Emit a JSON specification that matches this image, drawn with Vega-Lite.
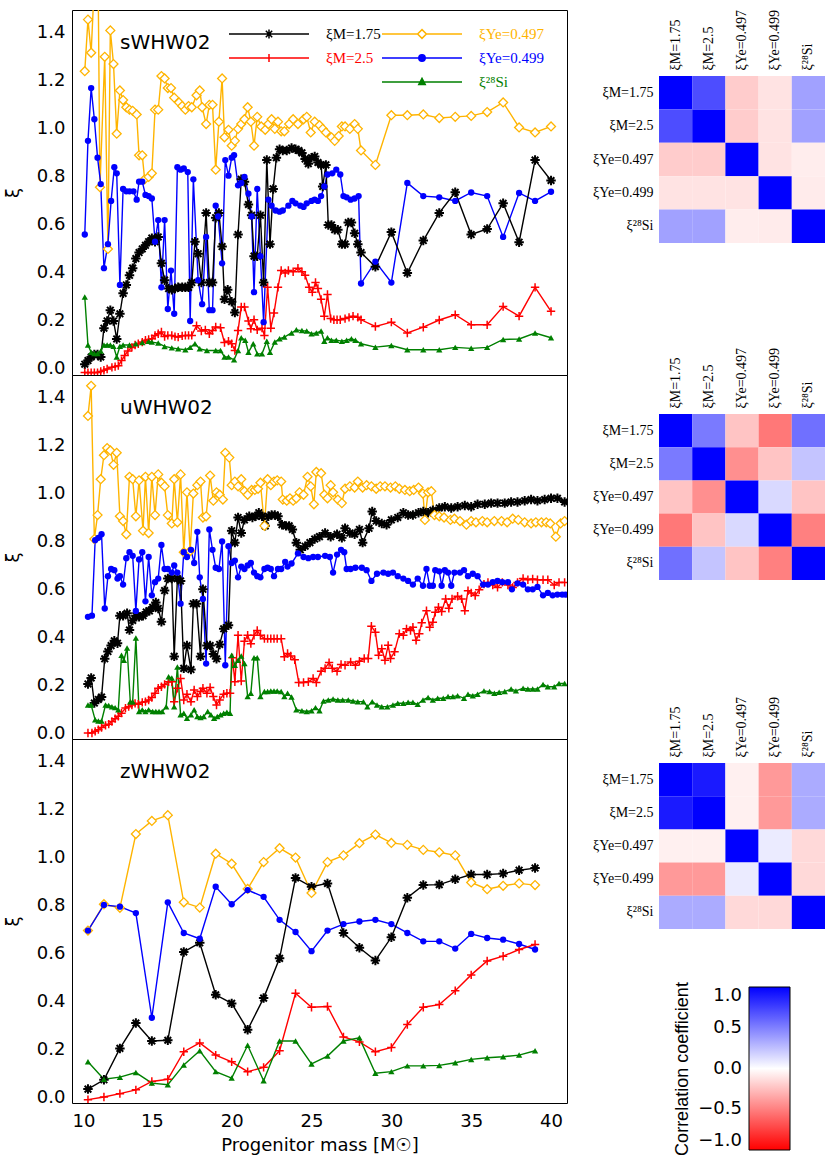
{
"$schema":"https://vega.github.io/schema/vega-lite/v6.json",
"background":"white",
"padding":{"left":3,"top":9,"right":0,"bottom":0},
"config":{"view":{"stroke":null},"font":"DejaVu Sans","axis":{"labelFont":"DejaVu Sans","titleFont":"DejaVu Sans","labelColor":"#000","titleColor":"#000","tickColor":"#000","tickWidth":1,"grid":false},"title":{"font":"DejaVu Sans","fontWeight":"normal","color":"#000"}},
"datasets":{
"lines":[
{"p":"s","s":"Y497","x":10.8,"y":1.24},{"p":"s","s":"Y497","x":11.0,"y":1.455},{"p":"s","s":"Y497","x":11.2,"y":1.317},{"p":"s","s":"Y497","x":11.6,"y":1.9},{"p":"s","s":"Y497","x":11.75,"y":0.757},{"p":"s","s":"Y497","x":12.05,"y":1.30},{"p":"s","s":"Y497","x":12.25,"y":0.50},{"p":"s","s":"Y497","x":12.4,"y":1.41},{"p":"s","s":"Y497","x":12.6,"y":1.27},{"p":"s","s":"Y497","x":12.8,"y":0.98},{"p":"s","s":"Y497","x":13.0,"y":1.16},{"p":"s","s":"Y497","x":13.2,"y":1.12},{"p":"s","s":"Y497","x":13.4,"y":1.09},{"p":"s","s":"Y497","x":13.6,"y":1.08},{"p":"s","s":"Y497","x":13.8,"y":1.075},{"p":"s","s":"Y497","x":14.05,"y":1.06},{"p":"s","s":"Y497","x":14.2,"y":0.89},{"p":"s","s":"Y497","x":14.4,"y":0.89},{"p":"s","s":"Y497","x":14.55,"y":0.79},{"p":"s","s":"Y497","x":14.8,"y":0.80},{"p":"s","s":"Y497","x":15.0,"y":0.815},{"p":"s","s":"Y497","x":15.2,"y":1.08},{"p":"s","s":"Y497","x":15.4,"y":1.08},{"p":"s","s":"Y497","x":15.6,"y":1.22},{"p":"s","s":"Y497","x":15.8,"y":1.21},{"p":"s","s":"Y497","x":16.0,"y":1.17},{"p":"s","s":"Y497","x":16.2,"y":1.17},{"p":"s","s":"Y497","x":16.4,"y":1.13},{"p":"s","s":"Y497","x":16.7,"y":1.11},{"p":"s","s":"Y497","x":16.9,"y":1.095},{"p":"s","s":"Y497","x":17.1,"y":1.08},{"p":"s","s":"Y497","x":17.3,"y":1.095},{"p":"s","s":"Y497","x":17.5,"y":1.09},{"p":"s","s":"Y497","x":17.8,"y":1.14},{"p":"s","s":"Y497","x":18.0,"y":1.16},{"p":"s","s":"Y497","x":18.15,"y":1.09},{"p":"s","s":"Y497","x":18.4,"y":1.02},{"p":"s","s":"Y497","x":18.6,"y":1.10},{"p":"s","s":"Y497","x":18.8,"y":1.10},{"p":"s","s":"Y497","x":19.0,"y":0.83},{"p":"s","s":"Y497","x":19.2,"y":1.03},{"p":"s","s":"Y497","x":19.4,"y":1.21},{"p":"s","s":"Y497","x":19.55,"y":0.965},{"p":"s","s":"Y497","x":19.8,"y":0.996},{"p":"s","s":"Y497","x":20.0,"y":0.93},{"p":"s","s":"Y497","x":20.2,"y":0.95},{"p":"s","s":"Y497","x":20.4,"y":1.0},{"p":"s","s":"Y497","x":20.6,"y":1.02},{"p":"s","s":"Y497","x":20.8,"y":1.04},{"p":"s","s":"Y497","x":21.0,"y":1.09},{"p":"s","s":"Y497","x":21.2,"y":1.03},{"p":"s","s":"Y497","x":21.4,"y":0.93},{"p":"s","s":"Y497","x":21.6,"y":1.05},{"p":"s","s":"Y497","x":21.85,"y":1.01},{"p":"s","s":"Y497","x":22.1,"y":0.996},{"p":"s","s":"Y497","x":22.3,"y":1.02},{"p":"s","s":"Y497","x":22.5,"y":1.04},{"p":"s","s":"Y497","x":22.7,"y":1.0},{"p":"s","s":"Y497","x":22.9,"y":1.03},{"p":"s","s":"Y497","x":23.1,"y":0.99},{"p":"s","s":"Y497","x":23.3,"y":0.99},{"p":"s","s":"Y497","x":23.6,"y":1.02},{"p":"s","s":"Y497","x":23.85,"y":1.04},{"p":"s","s":"Y497","x":24.15,"y":1.02},{"p":"s","s":"Y497","x":24.5,"y":1.04},{"p":"s","s":"Y497","x":24.7,"y":1.05},{"p":"s","s":"Y497","x":24.95,"y":0.985},{"p":"s","s":"Y497","x":25.2,"y":1.03},{"p":"s","s":"Y497","x":25.5,"y":1.015},{"p":"s","s":"Y497","x":25.7,"y":1.0},{"p":"s","s":"Y497","x":25.9,"y":0.985},{"p":"s","s":"Y497","x":26.25,"y":0.965},{"p":"s","s":"Y497","x":26.45,"y":0.95},{"p":"s","s":"Y497","x":26.7,"y":0.97},{"p":"s","s":"Y497","x":26.9,"y":1.01},{"p":"s","s":"Y497","x":27.1,"y":1.01},{"p":"s","s":"Y497","x":27.4,"y":1.0},{"p":"s","s":"Y497","x":27.7,"y":1.02},{"p":"s","s":"Y497","x":27.9,"y":1.0},{"p":"s","s":"Y497","x":28.1,"y":0.91},{"p":"s","s":"Y497","x":29,"y":0.85},{"p":"s","s":"Y497","x":30,"y":1.057},{"p":"s","s":"Y497","x":31,"y":1.057},{"p":"s","s":"Y497","x":32,"y":1.06},{"p":"s","s":"Y497","x":33,"y":1.045},{"p":"s","s":"Y497","x":34,"y":1.05},{"p":"s","s":"Y497","x":35,"y":1.054},{"p":"s","s":"Y497","x":36,"y":1.07},{"p":"s","s":"Y497","x":37,"y":1.11},{"p":"s","s":"Y497","x":38,"y":1.006},{"p":"s","s":"Y497","x":39,"y":0.985},{"p":"s","s":"Y497","x":40,"y":1.01},
{"p":"s","s":"Y499","x":10.8,"y":0.56},{"p":"s","s":"Y499","x":11.0,"y":0.95},{"p":"s","s":"Y499","x":11.2,"y":1.17},{"p":"s","s":"Y499","x":11.4,"y":1.04},{"p":"s","s":"Y499","x":11.6,"y":0.88},{"p":"s","s":"Y499","x":11.8,"y":0.77},{"p":"s","s":"Y499","x":12.0,"y":0.42},{"p":"s","s":"Y499","x":12.25,"y":0.52},{"p":"s","s":"Y499","x":12.45,"y":0.70},{"p":"s","s":"Y499","x":12.65,"y":0.84},{"p":"s","s":"Y499","x":12.8,"y":0.815},{"p":"s","s":"Y499","x":13.0,"y":0.35},{"p":"s","s":"Y499","x":13.2,"y":0.75},{"p":"s","s":"Y499","x":13.4,"y":0.74},{"p":"s","s":"Y499","x":13.6,"y":0.74},{"p":"s","s":"Y499","x":13.85,"y":0.74},{"p":"s","s":"Y499","x":14.05,"y":0.705},{"p":"s","s":"Y499","x":14.2,"y":0.78},{"p":"s","s":"Y499","x":14.4,"y":0.78},{"p":"s","s":"Y499","x":14.6,"y":0.725},{"p":"s","s":"Y499","x":14.8,"y":0.72},{"p":"s","s":"Y499","x":15.0,"y":0.71},{"p":"s","s":"Y499","x":15.2,"y":0.53},{"p":"s","s":"Y499","x":15.4,"y":0.62},{"p":"s","s":"Y499","x":15.6,"y":0.34},{"p":"s","s":"Y499","x":15.8,"y":0.62},{"p":"s","s":"Y499","x":16.0,"y":0.25},{"p":"s","s":"Y499","x":16.2,"y":0.41},{"p":"s","s":"Y499","x":16.4,"y":0.23},{"p":"s","s":"Y499","x":16.6,"y":0.84},{"p":"s","s":"Y499","x":16.8,"y":0.83},{"p":"s","s":"Y499","x":17.0,"y":0.835},{"p":"s","s":"Y499","x":17.25,"y":0.82},{"p":"s","s":"Y499","x":17.4,"y":0.20},{"p":"s","s":"Y499","x":17.6,"y":0.79},{"p":"s","s":"Y499","x":17.9,"y":0.37},{"p":"s","s":"Y499","x":18.15,"y":0.27},{"p":"s","s":"Y499","x":18.4,"y":0.55},{"p":"s","s":"Y499","x":18.6,"y":0.245},{"p":"s","s":"Y499","x":18.8,"y":0.245},{"p":"s","s":"Y499","x":19.0,"y":0.68},{"p":"s","s":"Y499","x":19.15,"y":0.635},{"p":"s","s":"Y499","x":19.4,"y":0.44},{"p":"s","s":"Y499","x":19.6,"y":0.87},{"p":"s","s":"Y499","x":19.8,"y":0.805},{"p":"s","s":"Y499","x":20.0,"y":0.88},{"p":"s","s":"Y499","x":20.15,"y":0.89},{"p":"s","s":"Y499","x":20.4,"y":0.765},{"p":"s","s":"Y499","x":20.6,"y":0.775},{"p":"s","s":"Y499","x":20.8,"y":0.80},{"p":"s","s":"Y499","x":21.05,"y":0.73},{"p":"s","s":"Y499","x":21.25,"y":0.635},{"p":"s","s":"Y499","x":21.4,"y":0.32},{"p":"s","s":"Y499","x":21.6,"y":0.75},{"p":"s","s":"Y499","x":21.8,"y":0.47},{"p":"s","s":"Y499","x":22.0,"y":0.195},{"p":"s","s":"Y499","x":22.3,"y":0.705},{"p":"s","s":"Y499","x":22.5,"y":0.68},{"p":"s","s":"Y499","x":22.75,"y":0.66},{"p":"s","s":"Y499","x":23.0,"y":0.655},{"p":"s","s":"Y499","x":23.2,"y":0.66},{"p":"s","s":"Y499","x":23.55,"y":0.68},{"p":"s","s":"Y499","x":23.8,"y":0.70},{"p":"s","s":"Y499","x":24.0,"y":0.69},{"p":"s","s":"Y499","x":24.3,"y":0.68},{"p":"s","s":"Y499","x":24.5,"y":0.675},{"p":"s","s":"Y499","x":24.7,"y":0.69},{"p":"s","s":"Y499","x":25.0,"y":0.70},{"p":"s","s":"Y499","x":25.2,"y":0.705},{"p":"s","s":"Y499","x":25.4,"y":0.70},{"p":"s","s":"Y499","x":25.6,"y":0.72},{"p":"s","s":"Y499","x":25.8,"y":0.76},{"p":"s","s":"Y499","x":26.0,"y":0.81},{"p":"s","s":"Y499","x":26.3,"y":0.815},{"p":"s","s":"Y499","x":26.55,"y":0.83},{"p":"s","s":"Y499","x":26.8,"y":0.81},{"p":"s","s":"Y499","x":27.0,"y":0.72},{"p":"s","s":"Y499","x":27.2,"y":0.715},{"p":"s","s":"Y499","x":27.45,"y":0.705},{"p":"s","s":"Y499","x":27.7,"y":0.71},{"p":"s","s":"Y499","x":27.95,"y":0.72},{"p":"s","s":"Y499","x":28.1,"y":0.356},{"p":"s","s":"Y499","x":29,"y":0.447},{"p":"s","s":"Y499","x":30,"y":0.36},{"p":"s","s":"Y499","x":31,"y":0.775},{"p":"s","s":"Y499","x":32,"y":0.72},{"p":"s","s":"Y499","x":33,"y":0.715},{"p":"s","s":"Y499","x":34,"y":0.70},{"p":"s","s":"Y499","x":35,"y":0.735},{"p":"s","s":"Y499","x":36,"y":0.72},{"p":"s","s":"Y499","x":37,"y":0.55},{"p":"s","s":"Y499","x":38,"y":0.733},{"p":"s","s":"Y499","x":39,"y":0.70},{"p":"s","s":"Y499","x":40,"y":0.738},
{"p":"s","s":"M175","x":10.8,"y":0.02},{"p":"s","s":"M175","x":11.0,"y":0.035},{"p":"s","s":"M175","x":11.2,"y":0.05},{"p":"s","s":"M175","x":11.4,"y":0.06},{"p":"s","s":"M175","x":11.6,"y":0.06},{"p":"s","s":"M175","x":11.8,"y":0.05},{"p":"s","s":"M175","x":12.0,"y":0.17},{"p":"s","s":"M175","x":12.2,"y":0.20},{"p":"s","s":"M175","x":12.4,"y":0.245},{"p":"s","s":"M175","x":12.6,"y":0.20},{"p":"s","s":"M175","x":12.8,"y":0.125},{"p":"s","s":"M175","x":13.0,"y":0.23},{"p":"s","s":"M175","x":13.2,"y":0.315},{"p":"s","s":"M175","x":13.4,"y":0.35},{"p":"s","s":"M175","x":13.6,"y":0.39},{"p":"s","s":"M175","x":13.8,"y":0.42},{"p":"s","s":"M175","x":14.0,"y":0.46},{"p":"s","s":"M175","x":14.2,"y":0.485},{"p":"s","s":"M175","x":14.4,"y":0.50},{"p":"s","s":"M175","x":14.6,"y":0.515},{"p":"s","s":"M175","x":14.8,"y":0.53},{"p":"s","s":"M175","x":15.0,"y":0.545},{"p":"s","s":"M175","x":15.2,"y":0.53},{"p":"s","s":"M175","x":15.4,"y":0.55},{"p":"s","s":"M175","x":15.6,"y":0.44},{"p":"s","s":"M175","x":15.8,"y":0.37},{"p":"s","s":"M175","x":16.05,"y":0.335},{"p":"s","s":"M175","x":16.25,"y":0.33},{"p":"s","s":"M175","x":16.45,"y":0.335},{"p":"s","s":"M175","x":16.65,"y":0.34},{"p":"s","s":"M175","x":16.9,"y":0.34},{"p":"s","s":"M175","x":17.1,"y":0.34},{"p":"s","s":"M175","x":17.3,"y":0.34},{"p":"s","s":"M175","x":17.5,"y":0.36},{"p":"s","s":"M175","x":17.7,"y":0.53},{"p":"s","s":"M175","x":17.9,"y":0.48},{"p":"s","s":"M175","x":18.1,"y":0.36},{"p":"s","s":"M175","x":18.4,"y":0.65},{"p":"s","s":"M175","x":18.6,"y":0.36},{"p":"s","s":"M175","x":18.8,"y":0.36},{"p":"s","s":"M175","x":19.0,"y":0.63},{"p":"s","s":"M175","x":19.2,"y":0.65},{"p":"s","s":"M175","x":19.4,"y":0.51},{"p":"s","s":"M175","x":19.55,"y":0.29},{"p":"s","s":"M175","x":19.75,"y":0.33},{"p":"s","s":"M175","x":20.0,"y":0.28},{"p":"s","s":"M175","x":20.2,"y":0.235},{"p":"s","s":"M175","x":20.4,"y":0.56},{"p":"s","s":"M175","x":20.6,"y":0.79},{"p":"s","s":"M175","x":20.8,"y":0.78},{"p":"s","s":"M175","x":21.05,"y":0.685},{"p":"s","s":"M175","x":21.25,"y":0.64},{"p":"s","s":"M175","x":21.4,"y":0.47},{"p":"s","s":"M175","x":21.6,"y":0.47},{"p":"s","s":"M175","x":21.8,"y":0.64},{"p":"s","s":"M175","x":22.0,"y":0.36},{"p":"s","s":"M175","x":22.2,"y":0.87},{"p":"s","s":"M175","x":22.4,"y":0.52},{"p":"s","s":"M175","x":22.6,"y":0.75},{"p":"s","s":"M175","x":22.8,"y":0.88},{"p":"s","s":"M175","x":23.0,"y":0.915},{"p":"s","s":"M175","x":23.2,"y":0.91},{"p":"s","s":"M175","x":23.45,"y":0.91},{"p":"s","s":"M175","x":23.75,"y":0.92},{"p":"s","s":"M175","x":24.0,"y":0.915},{"p":"s","s":"M175","x":24.2,"y":0.91},{"p":"s","s":"M175","x":24.4,"y":0.90},{"p":"s","s":"M175","x":24.6,"y":0.875},{"p":"s","s":"M175","x":24.8,"y":0.855},{"p":"s","s":"M175","x":25.0,"y":0.88},{"p":"s","s":"M175","x":25.2,"y":0.885},{"p":"s","s":"M175","x":25.4,"y":0.86},{"p":"s","s":"M175","x":25.6,"y":0.85},{"p":"s","s":"M175","x":25.7,"y":0.76},{"p":"s","s":"M175","x":25.9,"y":0.85},{"p":"s","s":"M175","x":26.05,"y":0.60},{"p":"s","s":"M175","x":26.25,"y":0.60},{"p":"s","s":"M175","x":26.45,"y":0.58},{"p":"s","s":"M175","x":26.65,"y":0.58},{"p":"s","s":"M175","x":26.9,"y":0.52},{"p":"s","s":"M175","x":27.1,"y":0.52},{"p":"s","s":"M175","x":27.3,"y":0.61},{"p":"s","s":"M175","x":27.5,"y":0.61},{"p":"s","s":"M175","x":27.7,"y":0.565},{"p":"s","s":"M175","x":27.9,"y":0.52},{"p":"s","s":"M175","x":28.1,"y":0.485},{"p":"s","s":"M175","x":29,"y":0.426},{"p":"s","s":"M175","x":30,"y":0.57},{"p":"s","s":"M175","x":31,"y":0.40},{"p":"s","s":"M175","x":32,"y":0.535},{"p":"s","s":"M175","x":33,"y":0.65},{"p":"s","s":"M175","x":34,"y":0.736},{"p":"s","s":"M175","x":35,"y":0.56},{"p":"s","s":"M175","x":36,"y":0.583},{"p":"s","s":"M175","x":37,"y":0.69},{"p":"s","s":"M175","x":38,"y":0.528},{"p":"s","s":"M175","x":39,"y":0.87},{"p":"s","s":"M175","x":40,"y":0.785},
{"p":"s","s":"M25","x":10.8,"y":-0.015},{"p":"s","s":"M25","x":11.0,"y":-0.015},{"p":"s","s":"M25","x":11.2,"y":-0.015},{"p":"s","s":"M25","x":11.4,"y":-0.015},{"p":"s","s":"M25","x":11.6,"y":-0.015},{"p":"s","s":"M25","x":11.8,"y":-0.01},{"p":"s","s":"M25","x":12.0,"y":-0.005},{"p":"s","s":"M25","x":12.2,"y":0.0},{"p":"s","s":"M25","x":12.5,"y":0.007},{"p":"s","s":"M25","x":12.7,"y":0.01},{"p":"s","s":"M25","x":12.9,"y":0.014},{"p":"s","s":"M25","x":13.1,"y":0.035},{"p":"s","s":"M25","x":13.3,"y":0.056},{"p":"s","s":"M25","x":13.5,"y":0.075},{"p":"s","s":"M25","x":13.75,"y":0.09},{"p":"s","s":"M25","x":13.95,"y":0.1},{"p":"s","s":"M25","x":14.15,"y":0.105},{"p":"s","s":"M25","x":14.4,"y":0.112},{"p":"s","s":"M25","x":14.6,"y":0.12},{"p":"s","s":"M25","x":14.8,"y":0.123},{"p":"s","s":"M25","x":15.0,"y":0.126},{"p":"s","s":"M25","x":15.2,"y":0.14},{"p":"s","s":"M25","x":15.4,"y":0.147},{"p":"s","s":"M25","x":15.6,"y":0.154},{"p":"s","s":"M25","x":15.8,"y":0.135},{"p":"s","s":"M25","x":16.0,"y":0.14},{"p":"s","s":"M25","x":16.25,"y":0.14},{"p":"s","s":"M25","x":16.45,"y":0.135},{"p":"s","s":"M25","x":16.65,"y":0.133},{"p":"s","s":"M25","x":16.9,"y":0.138},{"p":"s","s":"M25","x":17.1,"y":0.14},{"p":"s","s":"M25","x":17.3,"y":0.14},{"p":"s","s":"M25","x":17.5,"y":0.14},{"p":"s","s":"M25","x":17.8,"y":0.18},{"p":"s","s":"M25","x":18.1,"y":0.158},{"p":"s","s":"M25","x":18.35,"y":0.163},{"p":"s","s":"M25","x":18.6,"y":0.147},{"p":"s","s":"M25","x":18.8,"y":0.16},{"p":"s","s":"M25","x":19.0,"y":0.175},{"p":"s","s":"M25","x":19.3,"y":0.172},{"p":"s","s":"M25","x":19.55,"y":0.11},{"p":"s","s":"M25","x":19.8,"y":0.116},{"p":"s","s":"M25","x":20.0,"y":0.105},{"p":"s","s":"M25","x":20.2,"y":0.077},{"p":"s","s":"M25","x":20.4,"y":0.16},{"p":"s","s":"M25","x":20.6,"y":0.258},{"p":"s","s":"M25","x":20.8,"y":0.258},{"p":"s","s":"M25","x":21.05,"y":0.20},{"p":"s","s":"M25","x":21.2,"y":0.168},{"p":"s","s":"M25","x":21.4,"y":0.205},{"p":"s","s":"M25","x":21.6,"y":0.163},{"p":"s","s":"M25","x":21.9,"y":0.17},{"p":"s","s":"M25","x":22.05,"y":0.14},{"p":"s","s":"M25","x":22.25,"y":0.34},{"p":"s","s":"M25","x":22.45,"y":0.17},{"p":"s","s":"M25","x":22.65,"y":0.233},{"p":"s","s":"M25","x":22.9,"y":0.34},{"p":"s","s":"M25","x":23.1,"y":0.41},{"p":"s","s":"M25","x":23.35,"y":0.40},{"p":"s","s":"M25","x":23.55,"y":0.41},{"p":"s","s":"M25","x":23.85,"y":0.405},{"p":"s","s":"M25","x":24.15,"y":0.42},{"p":"s","s":"M25","x":24.4,"y":0.405},{"p":"s","s":"M25","x":24.6,"y":0.39},{"p":"s","s":"M25","x":24.85,"y":0.34},{"p":"s","s":"M25","x":25.05,"y":0.32},{"p":"s","s":"M25","x":25.25,"y":0.36},{"p":"s","s":"M25","x":25.4,"y":0.335},{"p":"s","s":"M25","x":25.6,"y":0.29},{"p":"s","s":"M25","x":25.8,"y":0.22},{"p":"s","s":"M25","x":26.0,"y":0.31},{"p":"s","s":"M25","x":26.2,"y":0.21},{"p":"s","s":"M25","x":26.4,"y":0.205},{"p":"s","s":"M25","x":26.6,"y":0.205},{"p":"s","s":"M25","x":26.8,"y":0.205},{"p":"s","s":"M25","x":27.1,"y":0.21},{"p":"s","s":"M25","x":27.35,"y":0.215},{"p":"s","s":"M25","x":27.6,"y":0.22},{"p":"s","s":"M25","x":27.9,"y":0.215},{"p":"s","s":"M25","x":28.1,"y":0.205},{"p":"s","s":"M25","x":29,"y":0.177},{"p":"s","s":"M25","x":30,"y":0.195},{"p":"s","s":"M25","x":31,"y":0.15},{"p":"s","s":"M25","x":32,"y":0.174},{"p":"s","s":"M25","x":33,"y":0.204},{"p":"s","s":"M25","x":34,"y":0.226},{"p":"s","s":"M25","x":35,"y":0.184},{"p":"s","s":"M25","x":36,"y":0.184},{"p":"s","s":"M25","x":37,"y":0.26},{"p":"s","s":"M25","x":38,"y":0.22},{"p":"s","s":"M25","x":39,"y":0.34},{"p":"s","s":"M25","x":40,"y":0.24},
{"p":"s","s":"Si","x":10.8,"y":0.30},{"p":"s","s":"Si","x":11.0,"y":0.10},{"p":"s","s":"Si","x":11.2,"y":0.07},{"p":"s","s":"Si","x":11.4,"y":0.065},{"p":"s","s":"Si","x":11.6,"y":0.065},{"p":"s","s":"Si","x":11.8,"y":0.075},{"p":"s","s":"Si","x":12.0,"y":0.10},{"p":"s","s":"Si","x":12.2,"y":0.10},{"p":"s","s":"Si","x":12.4,"y":0.10},{"p":"s","s":"Si","x":12.6,"y":0.095},{"p":"s","s":"Si","x":12.8,"y":0.05},{"p":"s","s":"Si","x":13.0,"y":0.095},{"p":"s","s":"Si","x":13.2,"y":0.10},{"p":"s","s":"Si","x":13.6,"y":0.10},{"p":"s","s":"Si","x":14.0,"y":0.105},{"p":"s","s":"Si","x":14.4,"y":0.11},{"p":"s","s":"Si","x":14.8,"y":0.115},{"p":"s","s":"Si","x":15.0,"y":0.112},{"p":"s","s":"Si","x":15.4,"y":0.108},{"p":"s","s":"Si","x":15.8,"y":0.094},{"p":"s","s":"Si","x":16.25,"y":0.088},{"p":"s","s":"Si","x":16.65,"y":0.084},{"p":"s","s":"Si","x":17.1,"y":0.08},{"p":"s","s":"Si","x":17.4,"y":0.09},{"p":"s","s":"Si","x":17.7,"y":0.105},{"p":"s","s":"Si","x":18.0,"y":0.084},{"p":"s","s":"Si","x":18.45,"y":0.077},{"p":"s","s":"Si","x":19.0,"y":0.077},{"p":"s","s":"Si","x":19.3,"y":0.077},{"p":"s","s":"Si","x":19.55,"y":0.05},{"p":"s","s":"Si","x":19.8,"y":0.05},{"p":"s","s":"Si","x":20.15,"y":0.038},{"p":"s","s":"Si","x":20.4,"y":0.077},{"p":"s","s":"Si","x":20.6,"y":0.13},{"p":"s","s":"Si","x":20.85,"y":0.12},{"p":"s","s":"Si","x":21.05,"y":0.07},{"p":"s","s":"Si","x":21.35,"y":0.105},{"p":"s","s":"Si","x":21.6,"y":0.063},{"p":"s","s":"Si","x":21.9,"y":0.063},{"p":"s","s":"Si","x":22.2,"y":0.116},{"p":"s","s":"Si","x":22.4,"y":0.07},{"p":"s","s":"Si","x":22.7,"y":0.112},{"p":"s","s":"Si","x":23.0,"y":0.126},{"p":"s","s":"Si","x":23.3,"y":0.133},{"p":"s","s":"Si","x":23.75,"y":0.15},{"p":"s","s":"Si","x":24.05,"y":0.163},{"p":"s","s":"Si","x":24.4,"y":0.16},{"p":"s","s":"Si","x":24.7,"y":0.158},{"p":"s","s":"Si","x":25.0,"y":0.147},{"p":"s","s":"Si","x":25.3,"y":0.15},{"p":"s","s":"Si","x":25.6,"y":0.158},{"p":"s","s":"Si","x":25.8,"y":0.116},{"p":"s","s":"Si","x":26.0,"y":0.13},{"p":"s","s":"Si","x":26.25,"y":0.12},{"p":"s","s":"Si","x":26.55,"y":0.12},{"p":"s","s":"Si","x":26.9,"y":0.116},{"p":"s","s":"Si","x":27.2,"y":0.12},{"p":"s","s":"Si","x":27.5,"y":0.126},{"p":"s","s":"Si","x":27.75,"y":0.12},{"p":"s","s":"Si","x":28.1,"y":0.105},{"p":"s","s":"Si","x":29,"y":0.091},{"p":"s","s":"Si","x":30,"y":0.098},{"p":"s","s":"Si","x":31,"y":0.08},{"p":"s","s":"Si","x":32,"y":0.08},{"p":"s","s":"Si","x":33,"y":0.08},{"p":"s","s":"Si","x":34,"y":0.09},{"p":"s","s":"Si","x":35,"y":0.086},{"p":"s","s":"Si","x":36,"y":0.09},{"p":"s","s":"Si","x":37,"y":0.123},{"p":"s","s":"Si","x":38,"y":0.125},{"p":"s","s":"Si","x":39,"y":0.15},{"p":"s","s":"Si","x":40,"y":0.13},
{"p":"u","s":"Y497","x":11.0,"y":1.324},{"p":"u","s":"Y497","x":11.2,"y":1.45},{"p":"u","s":"Y497","x":11.4,"y":0.81},{"p":"u","s":"Y497","x":11.6,"y":0.91},{"p":"u","s":"Y497","x":11.8,"y":1.06},{"p":"u","s":"Y497","x":12.0,"y":1.16},{"p":"u","s":"Y497","x":12.2,"y":1.19},{"p":"u","s":"Y497","x":12.4,"y":1.18},{"p":"u","s":"Y497","x":12.6,"y":1.12},{"p":"u","s":"Y497","x":12.8,"y":1.17},{"p":"u","s":"Y497","x":13.0,"y":0.905},{"p":"u","s":"Y497","x":13.2,"y":0.885},{"p":"u","s":"Y497","x":13.4,"y":0.83},{"p":"u","s":"Y497","x":13.6,"y":1.07},{"p":"u","s":"Y497","x":13.8,"y":1.06},{"p":"u","s":"Y497","x":14.0,"y":0.905},{"p":"u","s":"Y497","x":14.2,"y":1.055},{"p":"u","s":"Y497","x":14.45,"y":0.845},{"p":"u","s":"Y497","x":14.6,"y":1.07},{"p":"u","s":"Y497","x":14.8,"y":0.835},{"p":"u","s":"Y497","x":15.0,"y":1.07},{"p":"u","s":"Y497","x":15.2,"y":0.91},{"p":"u","s":"Y497","x":15.4,"y":1.08},{"p":"u","s":"Y497","x":15.6,"y":1.045},{"p":"u","s":"Y497","x":15.8,"y":1.03},{"p":"u","s":"Y497","x":16.0,"y":0.91},{"p":"u","s":"Y497","x":16.25,"y":0.875},{"p":"u","s":"Y497","x":16.4,"y":1.06},{"p":"u","s":"Y497","x":16.6,"y":0.88},{"p":"u","s":"Y497","x":16.8,"y":1.08},{"p":"u","s":"Y497","x":17.0,"y":0.755},{"p":"u","s":"Y497","x":17.2,"y":1.005},{"p":"u","s":"Y497","x":17.4,"y":0.76},{"p":"u","s":"Y497","x":17.6,"y":1.0},{"p":"u","s":"Y497","x":17.85,"y":1.035},{"p":"u","s":"Y497","x":18.05,"y":1.05},{"p":"u","s":"Y497","x":18.2,"y":0.90},{"p":"u","s":"Y497","x":18.4,"y":0.905},{"p":"u","s":"Y497","x":18.65,"y":1.075},{"p":"u","s":"Y497","x":18.85,"y":0.97},{"p":"u","s":"Y497","x":19.05,"y":1.005},{"p":"u","s":"Y497","x":19.25,"y":0.995},{"p":"u","s":"Y497","x":19.45,"y":0.975},{"p":"u","s":"Y497","x":19.6,"y":1.17},{"p":"u","s":"Y497","x":19.85,"y":1.15},{"p":"u","s":"Y497","x":20.0,"y":1.035},{"p":"u","s":"Y497","x":20.2,"y":1.05},{"p":"u","s":"Y497","x":20.4,"y":1.03},{"p":"u","s":"Y497","x":20.6,"y":1.06},{"p":"u","s":"Y497","x":20.8,"y":1.01},{"p":"u","s":"Y497","x":21.0,"y":0.995},{"p":"u","s":"Y497","x":21.25,"y":1.015},{"p":"u","s":"Y497","x":21.45,"y":1.015},{"p":"u","s":"Y497","x":21.65,"y":1.02},{"p":"u","s":"Y497","x":21.8,"y":1.045},{"p":"u","s":"Y497","x":22.05,"y":0.865},{"p":"u","s":"Y497","x":22.25,"y":1.06},{"p":"u","s":"Y497","x":22.45,"y":1.035},{"p":"u","s":"Y497","x":22.65,"y":1.05},{"p":"u","s":"Y497","x":22.85,"y":1.055},{"p":"u","s":"Y497","x":23.1,"y":1.05},{"p":"u","s":"Y497","x":23.2,"y":0.975},{"p":"u","s":"Y497","x":23.45,"y":0.97},{"p":"u","s":"Y497","x":23.65,"y":0.98},{"p":"u","s":"Y497","x":23.85,"y":0.97},{"p":"u","s":"Y497","x":24.05,"y":0.98},{"p":"u","s":"Y497","x":24.25,"y":1.005},{"p":"u","s":"Y497","x":24.5,"y":0.995},{"p":"u","s":"Y497","x":24.75,"y":1.07},{"p":"u","s":"Y497","x":24.95,"y":1.03},{"p":"u","s":"Y497","x":25.15,"y":0.955},{"p":"u","s":"Y497","x":25.3,"y":1.09},{"p":"u","s":"Y497","x":25.6,"y":1.085},{"p":"u","s":"Y497","x":25.8,"y":0.995},{"p":"u","s":"Y497","x":26.0,"y":0.98},{"p":"u","s":"Y497","x":26.2,"y":1.035},{"p":"u","s":"Y497","x":26.35,"y":1.005},{"p":"u","s":"Y497","x":26.65,"y":0.975},{"p":"u","s":"Y497","x":26.9,"y":0.96},{"p":"u","s":"Y497","x":27.1,"y":1.02},{"p":"u","s":"Y497","x":27.4,"y":1.03},{"p":"u","s":"Y497","x":27.7,"y":1.025},{"p":"u","s":"Y497","x":27.9,"y":1.05},{"p":"u","s":"Y497","x":28.2,"y":1.025},{"p":"u","s":"Y497","x":28.45,"y":1.035},{"p":"u","s":"Y497","x":28.75,"y":1.03},{"p":"u","s":"Y497","x":29.05,"y":1.02},{"p":"u","s":"Y497","x":29.3,"y":1.03},{"p":"u","s":"Y497","x":29.6,"y":1.03},{"p":"u","s":"Y497","x":29.95,"y":1.025},{"p":"u","s":"Y497","x":30.25,"y":1.03},{"p":"u","s":"Y497","x":30.5,"y":1.02},{"p":"u","s":"Y497","x":30.85,"y":1.015},{"p":"u","s":"Y497","x":31.15,"y":1.01},{"p":"u","s":"Y497","x":31.4,"y":1.015},{"p":"u","s":"Y497","x":31.7,"y":1.025},{"p":"u","s":"Y497","x":31.98,"y":1.0},{"p":"u","s":"Y497","x":32.1,"y":0.89},{"p":"u","s":"Y497","x":32.3,"y":1.005},{"p":"u","s":"Y497","x":32.5,"y":1.01},{"p":"u","s":"Y497","x":32.7,"y":0.91},{"p":"u","s":"Y497","x":33.0,"y":0.905},{"p":"u","s":"Y497","x":33.3,"y":0.90},{"p":"u","s":"Y497","x":33.7,"y":0.89},{"p":"u","s":"Y497","x":33.95,"y":0.895},{"p":"u","s":"Y497","x":34.3,"y":0.885},{"p":"u","s":"Y497","x":34.7,"y":0.87},{"p":"u","s":"Y497","x":35.0,"y":0.885},{"p":"u","s":"Y497","x":35.3,"y":0.88},{"p":"u","s":"Y497","x":35.7,"y":0.885},{"p":"u","s":"Y497","x":36.0,"y":0.88},{"p":"u","s":"Y497","x":36.45,"y":0.885},{"p":"u","s":"Y497","x":36.9,"y":0.885},{"p":"u","s":"Y497","x":37.25,"y":0.88},{"p":"u","s":"Y497","x":37.6,"y":0.895},{"p":"u","s":"Y497","x":37.95,"y":0.89},{"p":"u","s":"Y497","x":38.35,"y":0.88},{"p":"u","s":"Y497","x":38.75,"y":0.875},{"p":"u","s":"Y497","x":39.05,"y":0.88},{"p":"u","s":"Y497","x":39.4,"y":0.88},{"p":"u","s":"Y497","x":39.7,"y":0.88},{"p":"u","s":"Y497","x":39.95,"y":0.875},{"p":"u","s":"Y497","x":40.3,"y":0.82},{"p":"u","s":"Y497","x":40.6,"y":0.875},{"p":"u","s":"Y497","x":40.85,"y":0.885},
{"p":"u","s":"Y499","x":11.0,"y":0.485},{"p":"u","s":"Y499","x":11.25,"y":0.49},{"p":"u","s":"Y499","x":11.45,"y":0.805},{"p":"u","s":"Y499","x":11.65,"y":0.815},{"p":"u","s":"Y499","x":11.85,"y":0.83},{"p":"u","s":"Y499","x":12.05,"y":0.52},{"p":"u","s":"Y499","x":12.25,"y":0.655},{"p":"u","s":"Y499","x":12.45,"y":0.685},{"p":"u","s":"Y499","x":12.65,"y":0.68},{"p":"u","s":"Y499","x":12.85,"y":0.645},{"p":"u","s":"Y499","x":13.0,"y":0.655},{"p":"u","s":"Y499","x":13.2,"y":0.62},{"p":"u","s":"Y499","x":13.4,"y":0.73},{"p":"u","s":"Y499","x":13.6,"y":0.755},{"p":"u","s":"Y499","x":13.8,"y":0.74},{"p":"u","s":"Y499","x":14.0,"y":0.51},{"p":"u","s":"Y499","x":14.2,"y":0.725},{"p":"u","s":"Y499","x":14.4,"y":0.755},{"p":"u","s":"Y499","x":14.6,"y":0.55},{"p":"u","s":"Y499","x":14.8,"y":0.735},{"p":"u","s":"Y499","x":15.0,"y":0.575},{"p":"u","s":"Y499","x":15.2,"y":0.63},{"p":"u","s":"Y499","x":15.4,"y":0.645},{"p":"u","s":"Y499","x":15.6,"y":0.785},{"p":"u","s":"Y499","x":15.8,"y":0.685},{"p":"u","s":"Y499","x":16.0,"y":0.685},{"p":"u","s":"Y499","x":16.25,"y":0.67},{"p":"u","s":"Y499","x":16.4,"y":0.70},{"p":"u","s":"Y499","x":16.6,"y":0.67},{"p":"u","s":"Y499","x":16.8,"y":0.54},{"p":"u","s":"Y499","x":17.0,"y":0.755},{"p":"u","s":"Y499","x":17.2,"y":0.735},{"p":"u","s":"Y499","x":17.45,"y":0.765},{"p":"u","s":"Y499","x":17.65,"y":0.71},{"p":"u","s":"Y499","x":17.85,"y":0.84},{"p":"u","s":"Y499","x":18.0,"y":0.65},{"p":"u","s":"Y499","x":18.2,"y":0.56},{"p":"u","s":"Y499","x":18.4,"y":0.29},{"p":"u","s":"Y499","x":18.6,"y":0.85},{"p":"u","s":"Y499","x":18.8,"y":0.765},{"p":"u","s":"Y499","x":19.0,"y":0.69},{"p":"u","s":"Y499","x":19.2,"y":0.685},{"p":"u","s":"Y499","x":19.4,"y":0.80},{"p":"u","s":"Y499","x":19.6,"y":0.283},{"p":"u","s":"Y499","x":19.8,"y":0.78},{"p":"u","s":"Y499","x":20.0,"y":0.71},{"p":"u","s":"Y499","x":20.2,"y":0.72},{"p":"u","s":"Y499","x":20.4,"y":0.65},{"p":"u","s":"Y499","x":20.6,"y":0.695},{"p":"u","s":"Y499","x":20.8,"y":0.685},{"p":"u","s":"Y499","x":21.0,"y":0.70},{"p":"u","s":"Y499","x":21.2,"y":0.71},{"p":"u","s":"Y499","x":21.4,"y":0.67},{"p":"u","s":"Y499","x":21.6,"y":0.655},{"p":"u","s":"Y499","x":21.8,"y":0.65},{"p":"u","s":"Y499","x":22.05,"y":0.685},{"p":"u","s":"Y499","x":22.25,"y":0.69},{"p":"u","s":"Y499","x":22.45,"y":0.685},{"p":"u","s":"Y499","x":22.65,"y":0.655},{"p":"u","s":"Y499","x":22.9,"y":0.685},{"p":"u","s":"Y499","x":23.1,"y":0.685},{"p":"u","s":"Y499","x":23.35,"y":0.715},{"p":"u","s":"Y499","x":23.5,"y":0.695},{"p":"u","s":"Y499","x":23.75,"y":0.708},{"p":"u","s":"Y499","x":24.15,"y":0.75},{"p":"u","s":"Y499","x":24.5,"y":0.735},{"p":"u","s":"Y499","x":24.8,"y":0.73},{"p":"u","s":"Y499","x":25.1,"y":0.735},{"p":"u","s":"Y499","x":25.4,"y":0.735},{"p":"u","s":"Y499","x":25.85,"y":0.74},{"p":"u","s":"Y499","x":26.15,"y":0.735},{"p":"u","s":"Y499","x":26.35,"y":0.67},{"p":"u","s":"Y499","x":26.6,"y":0.745},{"p":"u","s":"Y499","x":26.85,"y":0.765},{"p":"u","s":"Y499","x":27.05,"y":0.755},{"p":"u","s":"Y499","x":27.2,"y":0.685},{"p":"u","s":"Y499","x":27.45,"y":0.685},{"p":"u","s":"Y499","x":27.75,"y":0.69},{"p":"u","s":"Y499","x":28.15,"y":0.69},{"p":"u","s":"Y499","x":28.45,"y":0.68},{"p":"u","s":"Y499","x":28.75,"y":0.635},{"p":"u","s":"Y499","x":29.1,"y":0.665},{"p":"u","s":"Y499","x":29.5,"y":0.67},{"p":"u","s":"Y499","x":29.8,"y":0.665},{"p":"u","s":"Y499","x":30.1,"y":0.67},{"p":"u","s":"Y499","x":30.4,"y":0.655},{"p":"u","s":"Y499","x":30.75,"y":0.645},{"p":"u","s":"Y499","x":31.05,"y":0.635},{"p":"u","s":"Y499","x":31.35,"y":0.62},{"p":"u","s":"Y499","x":31.65,"y":0.645},{"p":"u","s":"Y499","x":31.98,"y":0.615},{"p":"u","s":"Y499","x":32.2,"y":0.685},{"p":"u","s":"Y499","x":32.4,"y":0.615},{"p":"u","s":"Y499","x":32.6,"y":0.615},{"p":"u","s":"Y499","x":32.75,"y":0.68},{"p":"u","s":"Y499","x":33.0,"y":0.675},{"p":"u","s":"Y499","x":33.15,"y":0.615},{"p":"u","s":"Y499","x":33.35,"y":0.68},{"p":"u","s":"Y499","x":33.55,"y":0.67},{"p":"u","s":"Y499","x":33.75,"y":0.615},{"p":"u","s":"Y499","x":33.95,"y":0.67},{"p":"u","s":"Y499","x":34.3,"y":0.67},{"p":"u","s":"Y499","x":34.55,"y":0.68},{"p":"u","s":"Y499","x":34.8,"y":0.655},{"p":"u","s":"Y499","x":35.1,"y":0.665},{"p":"u","s":"Y499","x":35.4,"y":0.655},{"p":"u","s":"Y499","x":35.75,"y":0.62},{"p":"u","s":"Y499","x":36.05,"y":0.62},{"p":"u","s":"Y499","x":36.35,"y":0.63},{"p":"u","s":"Y499","x":36.65,"y":0.635},{"p":"u","s":"Y499","x":36.95,"y":0.63},{"p":"u","s":"Y499","x":37.3,"y":0.63},{"p":"u","s":"Y499","x":37.55,"y":0.60},{"p":"u","s":"Y499","x":37.9,"y":0.625},{"p":"u","s":"Y499","x":38.25,"y":0.62},{"p":"u","s":"Y499","x":38.55,"y":0.60},{"p":"u","s":"Y499","x":38.85,"y":0.60},{"p":"u","s":"Y499","x":39.15,"y":0.61},{"p":"u","s":"Y499","x":39.5,"y":0.575},{"p":"u","s":"Y499","x":39.8,"y":0.585},{"p":"u","s":"Y499","x":40.1,"y":0.575},{"p":"u","s":"Y499","x":40.4,"y":0.578},{"p":"u","s":"Y499","x":40.7,"y":0.578},{"p":"u","s":"Y499","x":40.9,"y":0.578},
{"p":"u","s":"M175","x":11.0,"y":0.205},{"p":"u","s":"M175","x":11.2,"y":0.23},{"p":"u","s":"M175","x":11.4,"y":0.125},{"p":"u","s":"M175","x":11.65,"y":0.14},{"p":"u","s":"M175","x":11.85,"y":0.15},{"p":"u","s":"M175","x":12.05,"y":0.31},{"p":"u","s":"M175","x":12.25,"y":0.34},{"p":"u","s":"M175","x":12.45,"y":0.365},{"p":"u","s":"M175","x":12.65,"y":0.385},{"p":"u","s":"M175","x":12.85,"y":0.375},{"p":"u","s":"M175","x":13.0,"y":0.49},{"p":"u","s":"M175","x":13.2,"y":0.49},{"p":"u","s":"M175","x":13.45,"y":0.50},{"p":"u","s":"M175","x":13.6,"y":0.43},{"p":"u","s":"M175","x":13.8,"y":0.47},{"p":"u","s":"M175","x":14.0,"y":0.49},{"p":"u","s":"M175","x":14.2,"y":0.485},{"p":"u","s":"M175","x":14.45,"y":0.49},{"p":"u","s":"M175","x":14.65,"y":0.505},{"p":"u","s":"M175","x":14.85,"y":0.51},{"p":"u","s":"M175","x":15.05,"y":0.525},{"p":"u","s":"M175","x":15.25,"y":0.545},{"p":"u","s":"M175","x":15.4,"y":0.52},{"p":"u","s":"M175","x":15.6,"y":0.465},{"p":"u","s":"M175","x":15.8,"y":0.595},{"p":"u","s":"M175","x":16.0,"y":0.645},{"p":"u","s":"M175","x":16.25,"y":0.645},{"p":"u","s":"M175","x":16.4,"y":0.32},{"p":"u","s":"M175","x":16.6,"y":0.645},{"p":"u","s":"M175","x":16.8,"y":0.635},{"p":"u","s":"M175","x":17.0,"y":0.27},{"p":"u","s":"M175","x":17.2,"y":0.365},{"p":"u","s":"M175","x":17.45,"y":0.265},{"p":"u","s":"M175","x":17.6,"y":0.54},{"p":"u","s":"M175","x":17.8,"y":0.54},{"p":"u","s":"M175","x":18.05,"y":0.32},{"p":"u","s":"M175","x":18.2,"y":0.60},{"p":"u","s":"M175","x":18.45,"y":0.365},{"p":"u","s":"M175","x":18.65,"y":0.365},{"p":"u","s":"M175","x":18.85,"y":0.33},{"p":"u","s":"M175","x":19.05,"y":0.31},{"p":"u","s":"M175","x":19.25,"y":0.37},{"p":"u","s":"M175","x":19.5,"y":0.435},{"p":"u","s":"M175","x":19.8,"y":0.45},{"p":"u","s":"M175","x":20.0,"y":0.845},{"p":"u","s":"M175","x":20.2,"y":0.795},{"p":"u","s":"M175","x":20.4,"y":0.90},{"p":"u","s":"M175","x":20.6,"y":0.835},{"p":"u","s":"M175","x":20.8,"y":0.89},{"p":"u","s":"M175","x":21.1,"y":0.905},{"p":"u","s":"M175","x":21.3,"y":0.90},{"p":"u","s":"M175","x":21.5,"y":0.905},{"p":"u","s":"M175","x":21.7,"y":0.92},{"p":"u","s":"M175","x":21.9,"y":0.905},{"p":"u","s":"M175","x":22.1,"y":0.865},{"p":"u","s":"M175","x":22.3,"y":0.905},{"p":"u","s":"M175","x":22.5,"y":0.91},{"p":"u","s":"M175","x":22.7,"y":0.91},{"p":"u","s":"M175","x":22.9,"y":0.905},{"p":"u","s":"M175","x":23.15,"y":0.87},{"p":"u","s":"M175","x":23.4,"y":0.865},{"p":"u","s":"M175","x":23.6,"y":0.865},{"p":"u","s":"M175","x":23.8,"y":0.85},{"p":"u","s":"M175","x":24.05,"y":0.795},{"p":"u","s":"M175","x":24.3,"y":0.765},{"p":"u","s":"M175","x":24.6,"y":0.78},{"p":"u","s":"M175","x":24.9,"y":0.795},{"p":"u","s":"M175","x":25.2,"y":0.81},{"p":"u","s":"M175","x":25.5,"y":0.82},{"p":"u","s":"M175","x":25.85,"y":0.835},{"p":"u","s":"M175","x":26.2,"y":0.82},{"p":"u","s":"M175","x":26.6,"y":0.83},{"p":"u","s":"M175","x":26.9,"y":0.815},{"p":"u","s":"M175","x":27.1,"y":0.855},{"p":"u","s":"M175","x":27.4,"y":0.835},{"p":"u","s":"M175","x":27.7,"y":0.83},{"p":"u","s":"M175","x":28.0,"y":0.85},{"p":"u","s":"M175","x":28.2,"y":0.795},{"p":"u","s":"M175","x":28.6,"y":0.855},{"p":"u","s":"M175","x":28.8,"y":0.925},{"p":"u","s":"M175","x":29.05,"y":0.885},{"p":"u","s":"M175","x":29.4,"y":0.875},{"p":"u","s":"M175","x":29.7,"y":0.87},{"p":"u","s":"M175","x":30.0,"y":0.89},{"p":"u","s":"M175","x":30.4,"y":0.90},{"p":"u","s":"M175","x":30.75,"y":0.92},{"p":"u","s":"M175","x":31.05,"y":0.91},{"p":"u","s":"M175","x":31.35,"y":0.91},{"p":"u","s":"M175","x":31.7,"y":0.92},{"p":"u","s":"M175","x":32.0,"y":0.925},{"p":"u","s":"M175","x":32.3,"y":0.92},{"p":"u","s":"M175","x":32.6,"y":0.93},{"p":"u","s":"M175","x":33.0,"y":0.94},{"p":"u","s":"M175","x":33.35,"y":0.945},{"p":"u","s":"M175","x":33.75,"y":0.94},{"p":"u","s":"M175","x":34.15,"y":0.945},{"p":"u","s":"M175","x":34.6,"y":0.95},{"p":"u","s":"M175","x":35.0,"y":0.945},{"p":"u","s":"M175","x":35.4,"y":0.955},{"p":"u","s":"M175","x":35.85,"y":0.955},{"p":"u","s":"M175","x":36.25,"y":0.96},{"p":"u","s":"M175","x":36.65,"y":0.96},{"p":"u","s":"M175","x":37.1,"y":0.96},{"p":"u","s":"M175","x":37.5,"y":0.965},{"p":"u","s":"M175","x":37.9,"y":0.965},{"p":"u","s":"M175","x":38.35,"y":0.97},{"p":"u","s":"M175","x":38.75,"y":0.975},{"p":"u","s":"M175","x":39.15,"y":0.97},{"p":"u","s":"M175","x":39.6,"y":0.975},{"p":"u","s":"M175","x":40.0,"y":0.98},{"p":"u","s":"M175","x":40.4,"y":0.98},{"p":"u","s":"M175","x":40.85,"y":0.965},
{"p":"u","s":"M25","x":11.0,"y":0.0},{"p":"u","s":"M25","x":11.25,"y":0.0},{"p":"u","s":"M25","x":11.45,"y":0.007},{"p":"u","s":"M25","x":11.65,"y":0.014},{"p":"u","s":"M25","x":11.85,"y":0.023},{"p":"u","s":"M25","x":12.1,"y":0.032},{"p":"u","s":"M25","x":12.3,"y":0.037},{"p":"u","s":"M25","x":12.5,"y":0.048},{"p":"u","s":"M25","x":12.7,"y":0.06},{"p":"u","s":"M25","x":12.9,"y":0.07},{"p":"u","s":"M25","x":13.1,"y":0.083},{"p":"u","s":"M25","x":13.35,"y":0.104},{"p":"u","s":"M25","x":13.55,"y":0.11},{"p":"u","s":"M25","x":13.75,"y":0.117},{"p":"u","s":"M25","x":13.95,"y":0.124},{"p":"u","s":"M25","x":14.15,"y":0.12},{"p":"u","s":"M25","x":14.4,"y":0.128},{"p":"u","s":"M25","x":14.6,"y":0.131},{"p":"u","s":"M25","x":14.8,"y":0.138},{"p":"u","s":"M25","x":15.0,"y":0.148},{"p":"u","s":"M25","x":15.2,"y":0.166},{"p":"u","s":"M25","x":15.4,"y":0.187},{"p":"u","s":"M25","x":15.6,"y":0.193},{"p":"u","s":"M25","x":15.8,"y":0.203},{"p":"u","s":"M25","x":16.05,"y":0.214},{"p":"u","s":"M25","x":16.25,"y":0.214},{"p":"u","s":"M25","x":16.4,"y":0.131},{"p":"u","s":"M25","x":16.6,"y":0.187},{"p":"u","s":"M25","x":16.8,"y":0.228},{"p":"u","s":"M25","x":17.0,"y":0.138},{"p":"u","s":"M25","x":17.2,"y":0.162},{"p":"u","s":"M25","x":17.45,"y":0.131},{"p":"u","s":"M25","x":17.65,"y":0.18},{"p":"u","s":"M25","x":17.85,"y":0.152},{"p":"u","s":"M25","x":18.05,"y":0.173},{"p":"u","s":"M25","x":18.2,"y":0.187},{"p":"u","s":"M25","x":18.45,"y":0.166},{"p":"u","s":"M25","x":18.65,"y":0.19},{"p":"u","s":"M25","x":18.85,"y":0.152},{"p":"u","s":"M25","x":19.05,"y":0.117},{"p":"u","s":"M25","x":19.25,"y":0.138},{"p":"u","s":"M25","x":19.5,"y":0.162},{"p":"u","s":"M25","x":19.7,"y":0.166},{"p":"u","s":"M25","x":19.9,"y":0.166},{"p":"u","s":"M25","x":20.05,"y":0.314},{"p":"u","s":"M25","x":20.2,"y":0.214},{"p":"u","s":"M25","x":20.4,"y":0.408},{"p":"u","s":"M25","x":20.6,"y":0.217},{"p":"u","s":"M25","x":20.8,"y":0.383},{"p":"u","s":"M25","x":21.0,"y":0.408},{"p":"u","s":"M25","x":21.2,"y":0.373},{"p":"u","s":"M25","x":21.4,"y":0.408},{"p":"u","s":"M25","x":21.6,"y":0.428},{"p":"u","s":"M25","x":21.8,"y":0.408},{"p":"u","s":"M25","x":22.05,"y":0.394},{"p":"u","s":"M25","x":22.25,"y":0.394},{"p":"u","s":"M25","x":22.45,"y":0.394},{"p":"u","s":"M25","x":22.65,"y":0.394},{"p":"u","s":"M25","x":22.85,"y":0.394},{"p":"u","s":"M25","x":23.1,"y":0.394},{"p":"u","s":"M25","x":23.3,"y":0.318},{"p":"u","s":"M25","x":23.5,"y":0.332},{"p":"u","s":"M25","x":23.7,"y":0.322},{"p":"u","s":"M25","x":23.95,"y":0.306},{"p":"u","s":"M25","x":24.2,"y":0.211},{"p":"u","s":"M25","x":24.5,"y":0.211},{"p":"u","s":"M25","x":24.8,"y":0.214},{"p":"u","s":"M25","x":25.1,"y":0.228},{"p":"u","s":"M25","x":25.3,"y":0.211},{"p":"u","s":"M25","x":25.6,"y":0.258},{"p":"u","s":"M25","x":25.85,"y":0.27},{"p":"u","s":"M25","x":26.1,"y":0.294},{"p":"u","s":"M25","x":26.3,"y":0.27},{"p":"u","s":"M25","x":26.6,"y":0.258},{"p":"u","s":"M25","x":26.85,"y":0.286},{"p":"u","s":"M25","x":27.1,"y":0.283},{"p":"u","s":"M25","x":27.45,"y":0.297},{"p":"u","s":"M25","x":27.75,"y":0.283},{"p":"u","s":"M25","x":28.0,"y":0.30},{"p":"u","s":"M25","x":28.3,"y":0.311},{"p":"u","s":"M25","x":28.55,"y":0.311},{"p":"u","s":"M25","x":28.75,"y":0.446},{"p":"u","s":"M25","x":29.0,"y":0.421},{"p":"u","s":"M25","x":29.2,"y":0.325},{"p":"u","s":"M25","x":29.4,"y":0.352},{"p":"u","s":"M25","x":29.6,"y":0.304},{"p":"u","s":"M25","x":29.8,"y":0.366},{"p":"u","s":"M25","x":29.95,"y":0.311},{"p":"u","s":"M25","x":30.2,"y":0.339},{"p":"u","s":"M25","x":30.5,"y":0.415},{"p":"u","s":"M25","x":30.75,"y":0.408},{"p":"u","s":"M25","x":30.95,"y":0.435},{"p":"u","s":"M25","x":31.2,"y":0.428},{"p":"u","s":"M25","x":31.35,"y":0.442},{"p":"u","s":"M25","x":31.55,"y":0.387},{"p":"u","s":"M25","x":31.75,"y":0.415},{"p":"u","s":"M25","x":31.9,"y":0.46},{"p":"u","s":"M25","x":32.2,"y":0.511},{"p":"u","s":"M25","x":32.4,"y":0.442},{"p":"u","s":"M25","x":32.6,"y":0.463},{"p":"u","s":"M25","x":32.75,"y":0.504},{"p":"u","s":"M25","x":32.95,"y":0.525},{"p":"u","s":"M25","x":33.15,"y":0.507},{"p":"u","s":"M25","x":33.4,"y":0.56},{"p":"u","s":"M25","x":33.6,"y":0.521},{"p":"u","s":"M25","x":33.8,"y":0.56},{"p":"u","s":"M25","x":34.15,"y":0.571},{"p":"u","s":"M25","x":34.4,"y":0.56},{"p":"u","s":"M25","x":34.6,"y":0.511},{"p":"u","s":"M25","x":34.8,"y":0.594},{"p":"u","s":"M25","x":35.0,"y":0.585},{"p":"u","s":"M25","x":35.25,"y":0.574},{"p":"u","s":"M25","x":35.5,"y":0.598},{"p":"u","s":"M25","x":35.8,"y":0.622},{"p":"u","s":"M25","x":36.05,"y":0.629},{"p":"u","s":"M25","x":36.35,"y":0.618},{"p":"u","s":"M25","x":36.65,"y":0.608},{"p":"u","s":"M25","x":36.95,"y":0.629},{"p":"u","s":"M25","x":37.3,"y":0.618},{"p":"u","s":"M25","x":37.6,"y":0.608},{"p":"u","s":"M25","x":37.9,"y":0.629},{"p":"u","s":"M25","x":38.25,"y":0.645},{"p":"u","s":"M25","x":38.55,"y":0.64},{"p":"u","s":"M25","x":38.85,"y":0.643},{"p":"u","s":"M25","x":39.15,"y":0.64},{"p":"u","s":"M25","x":39.5,"y":0.64},{"p":"u","s":"M25","x":39.8,"y":0.64},{"p":"u","s":"M25","x":40.2,"y":0.618},{"p":"u","s":"M25","x":40.5,"y":0.629},{"p":"u","s":"M25","x":40.85,"y":0.629},
{"p":"u","s":"Si","x":11.0,"y":0.117},{"p":"u","s":"Si","x":11.2,"y":0.117},{"p":"u","s":"Si","x":11.45,"y":0.055},{"p":"u","s":"Si","x":11.65,"y":0.05},{"p":"u","s":"Si","x":11.85,"y":0.05},{"p":"u","s":"Si","x":12.1,"y":0.117},{"p":"u","s":"Si","x":12.3,"y":0.115},{"p":"u","s":"Si","x":12.5,"y":0.11},{"p":"u","s":"Si","x":12.7,"y":0.106},{"p":"u","s":"Si","x":12.9,"y":0.097},{"p":"u","s":"Si","x":13.1,"y":0.325},{"p":"u","s":"Si","x":13.25,"y":0.304},{"p":"u","s":"Si","x":13.45,"y":0.355},{"p":"u","s":"Si","x":13.65,"y":0.131},{"p":"u","s":"Si","x":13.8,"y":0.131},{"p":"u","s":"Si","x":14.0,"y":0.397},{"p":"u","s":"Si","x":14.2,"y":0.09},{"p":"u","s":"Si","x":14.4,"y":0.097},{"p":"u","s":"Si","x":14.6,"y":0.09},{"p":"u","s":"Si","x":14.8,"y":0.097},{"p":"u","s":"Si","x":15.05,"y":0.09},{"p":"u","s":"Si","x":15.25,"y":0.09},{"p":"u","s":"Si","x":15.45,"y":0.09},{"p":"u","s":"Si","x":15.65,"y":0.09},{"p":"u","s":"Si","x":15.9,"y":0.11},{"p":"u","s":"Si","x":16.05,"y":0.235},{"p":"u","s":"Si","x":16.25,"y":0.23},{"p":"u","s":"Si","x":16.4,"y":0.11},{"p":"u","s":"Si","x":16.6,"y":0.276},{"p":"u","s":"Si","x":16.8,"y":0.076},{"p":"u","s":"Si","x":17.0,"y":0.083},{"p":"u","s":"Si","x":17.2,"y":0.062},{"p":"u","s":"Si","x":17.45,"y":0.076},{"p":"u","s":"Si","x":17.65,"y":0.097},{"p":"u","s":"Si","x":17.85,"y":0.069},{"p":"u","s":"Si","x":18.05,"y":0.065},{"p":"u","s":"Si","x":18.25,"y":0.069},{"p":"u","s":"Si","x":18.5,"y":0.09},{"p":"u","s":"Si","x":18.7,"y":0.076},{"p":"u","s":"Si","x":18.9,"y":0.062},{"p":"u","s":"Si","x":19.1,"y":0.069},{"p":"u","s":"Si","x":19.3,"y":0.076},{"p":"u","s":"Si","x":19.5,"y":0.083},{"p":"u","s":"Si","x":19.7,"y":0.087},{"p":"u","s":"Si","x":19.9,"y":0.083},{"p":"u","s":"Si","x":20.0,"y":0.325},{"p":"u","s":"Si","x":20.2,"y":0.283},{"p":"u","s":"Si","x":20.4,"y":0.304},{"p":"u","s":"Si","x":20.6,"y":0.322},{"p":"u","s":"Si","x":20.8,"y":0.29},{"p":"u","s":"Si","x":21.0,"y":0.152},{"p":"u","s":"Si","x":21.2,"y":0.166},{"p":"u","s":"Si","x":21.4,"y":0.314},{"p":"u","s":"Si","x":21.6,"y":0.314},{"p":"u","s":"Si","x":21.8,"y":0.152},{"p":"u","s":"Si","x":22.05,"y":0.173},{"p":"u","s":"Si","x":22.25,"y":0.173},{"p":"u","s":"Si","x":22.45,"y":0.175},{"p":"u","s":"Si","x":22.65,"y":0.175},{"p":"u","s":"Si","x":22.85,"y":0.175},{"p":"u","s":"Si","x":23.1,"y":0.173},{"p":"u","s":"Si","x":23.3,"y":0.152},{"p":"u","s":"Si","x":23.5,"y":0.166},{"p":"u","s":"Si","x":23.75,"y":0.15},{"p":"u","s":"Si","x":24.05,"y":0.097},{"p":"u","s":"Si","x":24.4,"y":0.093},{"p":"u","s":"Si","x":24.7,"y":0.09},{"p":"u","s":"Si","x":25.0,"y":0.093},{"p":"u","s":"Si","x":25.25,"y":0.106},{"p":"u","s":"Si","x":25.5,"y":0.093},{"p":"u","s":"Si","x":25.75,"y":0.134},{"p":"u","s":"Si","x":26.05,"y":0.138},{"p":"u","s":"Si","x":26.35,"y":0.142},{"p":"u","s":"Si","x":26.65,"y":0.138},{"p":"u","s":"Si","x":26.95,"y":0.138},{"p":"u","s":"Si","x":27.3,"y":0.138},{"p":"u","s":"Si","x":27.6,"y":0.134},{"p":"u","s":"Si","x":27.9,"y":0.131},{"p":"u","s":"Si","x":28.25,"y":0.131},{"p":"u","s":"Si","x":28.5,"y":0.11},{"p":"u","s":"Si","x":28.8,"y":0.131},{"p":"u","s":"Si","x":29.1,"y":0.117},{"p":"u","s":"Si","x":29.4,"y":0.11},{"p":"u","s":"Si","x":29.75,"y":0.11},{"p":"u","s":"Si","x":30.1,"y":0.117},{"p":"u","s":"Si","x":30.4,"y":0.124},{"p":"u","s":"Si","x":30.75,"y":0.124},{"p":"u","s":"Si","x":31.05,"y":0.128},{"p":"u","s":"Si","x":31.35,"y":0.128},{"p":"u","s":"Si","x":31.65,"y":0.12},{"p":"u","s":"Si","x":31.98,"y":0.138},{"p":"u","s":"Si","x":32.3,"y":0.148},{"p":"u","s":"Si","x":32.6,"y":0.138},{"p":"u","s":"Si","x":32.9,"y":0.145},{"p":"u","s":"Si","x":33.25,"y":0.145},{"p":"u","s":"Si","x":33.55,"y":0.152},{"p":"u","s":"Si","x":33.85,"y":0.152},{"p":"u","s":"Si","x":34.15,"y":0.156},{"p":"u","s":"Si","x":34.55,"y":0.145},{"p":"u","s":"Si","x":34.8,"y":0.162},{"p":"u","s":"Si","x":35.1,"y":0.156},{"p":"u","s":"Si","x":35.4,"y":0.162},{"p":"u","s":"Si","x":35.8,"y":0.176},{"p":"u","s":"Si","x":36.15,"y":0.173},{"p":"u","s":"Si","x":36.45,"y":0.166},{"p":"u","s":"Si","x":36.75,"y":0.17},{"p":"u","s":"Si","x":37.1,"y":0.173},{"p":"u","s":"Si","x":37.5,"y":0.184},{"p":"u","s":"Si","x":37.8,"y":0.176},{"p":"u","s":"Si","x":38.25,"y":0.187},{"p":"u","s":"Si","x":38.55,"y":0.184},{"p":"u","s":"Si","x":38.85,"y":0.184},{"p":"u","s":"Si","x":39.15,"y":0.184},{"p":"u","s":"Si","x":39.5,"y":0.203},{"p":"u","s":"Si","x":39.8,"y":0.193},{"p":"u","s":"Si","x":40.2,"y":0.193},{"p":"u","s":"Si","x":40.5,"y":0.207},{"p":"u","s":"Si","x":40.85,"y":0.207},
{"p":"z","s":"Y497","x":11,"y":0.695},{"p":"z","s":"Y497","x":12,"y":0.805},{"p":"z","s":"Y497","x":13,"y":0.79},{"p":"z","s":"Y497","x":14,"y":1.098},{"p":"z","s":"Y497","x":15,"y":1.153},{"p":"z","s":"Y497","x":16,"y":1.177},{"p":"z","s":"Y497","x":17,"y":0.813},{"p":"z","s":"Y497","x":18,"y":0.791},{"p":"z","s":"Y497","x":19,"y":1.016},{"p":"z","s":"Y497","x":20,"y":0.974},{"p":"z","s":"Y497","x":21,"y":0.869},{"p":"z","s":"Y497","x":22,"y":0.981},{"p":"z","s":"Y497","x":23,"y":1.039},{"p":"z","s":"Y497","x":24,"y":1.0},{"p":"z","s":"Y497","x":25,"y":0.852},{"p":"z","s":"Y497","x":26,"y":0.981},{"p":"z","s":"Y497","x":27,"y":1.009},{"p":"z","s":"Y497","x":28,"y":1.06},{"p":"z","s":"Y497","x":29,"y":1.096},{"p":"z","s":"Y497","x":30,"y":1.061},{"p":"z","s":"Y497","x":31,"y":1.053},{"p":"z","s":"Y497","x":32,"y":1.032},{"p":"z","s":"Y497","x":33,"y":1.022},{"p":"z","s":"Y497","x":34,"y":1.009},{"p":"z","s":"Y497","x":35,"y":0.896},{"p":"z","s":"Y497","x":36,"y":0.868},{"p":"z","s":"Y497","x":37,"y":0.882},{"p":"z","s":"Y497","x":38,"y":0.892},{"p":"z","s":"Y497","x":39,"y":0.885},
{"p":"z","s":"Y499","x":11,"y":0.695},{"p":"z","s":"Y499","x":12,"y":0.802},{"p":"z","s":"Y499","x":13,"y":0.795},{"p":"z","s":"Y499","x":14,"y":0.768},{"p":"z","s":"Y499","x":15,"y":0.331},{"p":"z","s":"Y499","x":16,"y":0.813},{"p":"z","s":"Y499","x":17,"y":0.685},{"p":"z","s":"Y499","x":18,"y":0.661},{"p":"z","s":"Y499","x":19,"y":0.878},{"p":"z","s":"Y499","x":20,"y":0.805},{"p":"z","s":"Y499","x":21,"y":0.864},{"p":"z","s":"Y499","x":22,"y":0.836},{"p":"z","s":"Y499","x":23,"y":0.74},{"p":"z","s":"Y499","x":24,"y":0.689},{"p":"z","s":"Y499","x":25,"y":0.609},{"p":"z","s":"Y499","x":26,"y":0.695},{"p":"z","s":"Y499","x":27,"y":0.722},{"p":"z","s":"Y499","x":28,"y":0.733},{"p":"z","s":"Y499","x":29,"y":0.74},{"p":"z","s":"Y499","x":30,"y":0.722},{"p":"z","s":"Y499","x":31,"y":0.685},{"p":"z","s":"Y499","x":32,"y":0.65},{"p":"z","s":"Y499","x":33,"y":0.65},{"p":"z","s":"Y499","x":34,"y":0.62},{"p":"z","s":"Y499","x":35,"y":0.681},{"p":"z","s":"Y499","x":36,"y":0.664},{"p":"z","s":"Y499","x":37,"y":0.657},{"p":"z","s":"Y499","x":38,"y":0.639},{"p":"z","s":"Y499","x":39,"y":0.616},
{"p":"z","s":"M175","x":11,"y":0.033},{"p":"z","s":"M175","x":12,"y":0.072},{"p":"z","s":"M175","x":13,"y":0.203},{"p":"z","s":"M175","x":14,"y":0.309},{"p":"z","s":"M175","x":15,"y":0.234},{"p":"z","s":"M175","x":16,"y":0.237},{"p":"z","s":"M175","x":17,"y":0.606},{"p":"z","s":"M175","x":18,"y":0.644},{"p":"z","s":"M175","x":19,"y":0.427},{"p":"z","s":"M175","x":20,"y":0.391},{"p":"z","s":"M175","x":21,"y":0.281},{"p":"z","s":"M175","x":22,"y":0.413},{"p":"z","s":"M175","x":23,"y":0.579},{"p":"z","s":"M175","x":24,"y":0.915},{"p":"z","s":"M175","x":25,"y":0.878},{"p":"z","s":"M175","x":26,"y":0.892},{"p":"z","s":"M175","x":27,"y":0.685},{"p":"z","s":"M175","x":28,"y":0.623},{"p":"z","s":"M175","x":29,"y":0.57},{"p":"z","s":"M175","x":30,"y":0.667},{"p":"z","s":"M175","x":31,"y":0.832},{"p":"z","s":"M175","x":32,"y":0.885},{"p":"z","s":"M175","x":33,"y":0.887},{"p":"z","s":"M175","x":34,"y":0.909},{"p":"z","s":"M175","x":35,"y":0.929},{"p":"z","s":"M175","x":36,"y":0.929},{"p":"z","s":"M175","x":37,"y":0.933},{"p":"z","s":"M175","x":38,"y":0.947},{"p":"z","s":"M175","x":39,"y":0.956},
{"p":"z","s":"M25","x":11,"y":-0.011},{"p":"z","s":"M25","x":12,"y":0.0},{"p":"z","s":"M25","x":13,"y":0.014},{"p":"z","s":"M25","x":14,"y":0.03},{"p":"z","s":"M25","x":15,"y":0.065},{"p":"z","s":"M25","x":16,"y":0.074},{"p":"z","s":"M25","x":17,"y":0.189},{"p":"z","s":"M25","x":18,"y":0.226},{"p":"z","s":"M25","x":19,"y":0.175},{"p":"z","s":"M25","x":20,"y":0.147},{"p":"z","s":"M25","x":21,"y":0.106},{"p":"z","s":"M25","x":22,"y":0.124},{"p":"z","s":"M25","x":23,"y":0.193},{"p":"z","s":"M25","x":24,"y":0.433},{"p":"z","s":"M25","x":25,"y":0.375},{"p":"z","s":"M25","x":26,"y":0.378},{"p":"z","s":"M25","x":27,"y":0.251},{"p":"z","s":"M25","x":28,"y":0.23},{"p":"z","s":"M25","x":29,"y":0.189},{"p":"z","s":"M25","x":30,"y":0.207},{"p":"z","s":"M25","x":31,"y":0.303},{"p":"z","s":"M25","x":32,"y":0.375},{"p":"z","s":"M25","x":33,"y":0.386},{"p":"z","s":"M25","x":34,"y":0.444},{"p":"z","s":"M25","x":35,"y":0.51},{"p":"z","s":"M25","x":36,"y":0.568},{"p":"z","s":"M25","x":37,"y":0.588},{"p":"z","s":"M25","x":38,"y":0.616},{"p":"z","s":"M25","x":39,"y":0.637},
{"p":"z","s":"Si","x":11,"y":0.147},{"p":"z","s":"Si","x":12,"y":0.074},{"p":"z","s":"Si","x":13,"y":0.083},{"p":"z","s":"Si","x":14,"y":0.102},{"p":"z","s":"Si","x":15,"y":0.058},{"p":"z","s":"Si","x":16,"y":0.051},{"p":"z","s":"Si","x":17,"y":0.134},{"p":"z","s":"Si","x":18,"y":0.193},{"p":"z","s":"Si","x":19,"y":0.106},{"p":"z","s":"Si","x":20,"y":0.079},{"p":"z","s":"Si","x":21,"y":0.216},{"p":"z","s":"Si","x":22,"y":0.068},{"p":"z","s":"Si","x":23,"y":0.234},{"p":"z","s":"Si","x":24,"y":0.234},{"p":"z","s":"Si","x":25,"y":0.138},{"p":"z","s":"Si","x":26,"y":0.171},{"p":"z","s":"Si","x":27,"y":0.234},{"p":"z","s":"Si","x":28,"y":0.247},{"p":"z","s":"Si","x":29,"y":0.099},{"p":"z","s":"Si","x":30,"y":0.106},{"p":"z","s":"Si","x":31,"y":0.13},{"p":"z","s":"Si","x":32,"y":0.13},{"p":"z","s":"Si","x":33,"y":0.132},{"p":"z","s":"Si","x":34,"y":0.143},{"p":"z","s":"Si","x":35,"y":0.157},{"p":"z","s":"Si","x":36,"y":0.164},{"p":"z","s":"Si","x":37,"y":0.168},{"p":"z","s":"Si","x":38,"y":0.175},{"p":"z","s":"Si","x":39,"y":0.193}
],
"corr":[
{"p":"s","r":"M175","c":"M175","v":1},{"p":"s","r":"M175","c":"M25","v":0.7},{"p":"s","r":"M175","c":"Y497","v":-0.2},{"p":"s","r":"M175","c":"Y499","v":-0.11},{"p":"s","r":"M175","c":"Si","v":0.37},
{"p":"s","r":"M25","c":"M175","v":0.7},{"p":"s","r":"M25","c":"M25","v":1},{"p":"s","r":"M25","c":"Y497","v":-0.2},{"p":"s","r":"M25","c":"Y499","v":-0.11},{"p":"s","r":"M25","c":"Si","v":0.37},
{"p":"s","r":"Y497","c":"M175","v":-0.2},{"p":"s","r":"Y497","c":"M25","v":-0.2},{"p":"s","r":"Y497","c":"Y497","v":1},{"p":"s","r":"Y497","c":"Y499","v":-0.11},{"p":"s","r":"Y497","c":"Si","v":-0.07},
{"p":"s","r":"Y499","c":"M175","v":-0.11},{"p":"s","r":"Y499","c":"M25","v":-0.11},{"p":"s","r":"Y499","c":"Y497","v":-0.11},{"p":"s","r":"Y499","c":"Y499","v":1},{"p":"s","r":"Y499","c":"Si","v":-0.08},
{"p":"s","r":"Si","c":"M175","v":0.37},{"p":"s","r":"Si","c":"M25","v":0.37},{"p":"s","r":"Si","c":"Y497","v":-0.07},{"p":"s","r":"Si","c":"Y499","v":-0.08},{"p":"s","r":"Si","c":"Si","v":1},
{"p":"u","r":"M175","c":"M175","v":1},{"p":"u","r":"M175","c":"M25","v":0.52},{"p":"u","r":"M175","c":"Y497","v":-0.23},{"p":"u","r":"M175","c":"Y499","v":-0.53},{"p":"u","r":"M175","c":"Si","v":0.56},
{"p":"u","r":"M25","c":"M175","v":0.52},{"p":"u","r":"M25","c":"M25","v":1},{"p":"u","r":"M25","c":"Y497","v":-0.44},{"p":"u","r":"M25","c":"Y499","v":-0.23},{"p":"u","r":"M25","c":"Si","v":0.23},
{"p":"u","r":"Y497","c":"M175","v":-0.23},{"p":"u","r":"Y497","c":"M25","v":-0.44},{"p":"u","r":"Y497","c":"Y497","v":1},{"p":"u","r":"Y497","c":"Y499","v":0.15},{"p":"u","r":"Y497","c":"Si","v":-0.23},
{"p":"u","r":"Y499","c":"M175","v":-0.53},{"p":"u","r":"Y499","c":"M25","v":-0.23},{"p":"u","r":"Y499","c":"Y497","v":0.15},{"p":"u","r":"Y499","c":"Y499","v":1},{"p":"u","r":"Y499","c":"Si","v":-0.5},
{"p":"u","r":"Si","c":"M175","v":0.56},{"p":"u","r":"Si","c":"M25","v":0.23},{"p":"u","r":"Si","c":"Y497","v":-0.23},{"p":"u","r":"Si","c":"Y499","v":-0.5},{"p":"u","r":"Si","c":"Si","v":1},
{"p":"z","r":"M175","c":"M175","v":1},{"p":"z","r":"M175","c":"M25","v":0.9},{"p":"z","r":"M175","c":"Y497","v":-0.06},{"p":"z","r":"M175","c":"Y499","v":-0.4},{"p":"z","r":"M175","c":"Si","v":0.33},
{"p":"z","r":"M25","c":"M175","v":0.9},{"p":"z","r":"M25","c":"M25","v":1},{"p":"z","r":"M25","c":"Y497","v":-0.06},{"p":"z","r":"M25","c":"Y499","v":-0.4},{"p":"z","r":"M25","c":"Si","v":0.33},
{"p":"z","r":"Y497","c":"M175","v":-0.06},{"p":"z","r":"Y497","c":"M25","v":-0.06},{"p":"z","r":"Y497","c":"Y497","v":1},{"p":"z","r":"Y497","c":"Y499","v":0.08},{"p":"z","r":"Y497","c":"Si","v":-0.15},
{"p":"z","r":"Y499","c":"M175","v":-0.4},{"p":"z","r":"Y499","c":"M25","v":-0.4},{"p":"z","r":"Y499","c":"Y497","v":0.08},{"p":"z","r":"Y499","c":"Y499","v":1},{"p":"z","r":"Y499","c":"Si","v":-0.15},
{"p":"z","r":"Si","c":"M175","v":0.33},{"p":"z","r":"Si","c":"M25","v":0.33},{"p":"z","r":"Si","c":"Y497","v":-0.15},{"p":"z","r":"Si","c":"Y499","v":-0.15},{"p":"z","r":"Si","c":"Si","v":1}
]
},
"hconcat":[
{"vconcat":[
{"width":495,"height":365,"view":{"stroke":"#000","strokeWidth":1},
"title":{"text":"sWHW02","anchor":"start","frame":"group","dx":48,"offset":-53,"baseline":"middle","fontSize":20,"font":"DejaVu Sans","fontWeight":"normal","color":"#000"},
"data":{"name":"lines"},"transform":[{"filter":"datum.p=='s'"}],
"layer":[
{"mark":{"type":"line","strokeWidth":1.4,"clip":true},"encoding":{
"x":{"field":"x","type":"quantitative","scale":{"domain":[10,41],"nice":false,"zero":false},"axis":{"orient":"bottom","values":[10,11,12,13,14,15,16,17,18,19,20,21,22,23,24,25,26,27,28,29,30,31,32,33,34,35,36,37,38,39,40,41],"labels":false,"tickSize":0,"domain":false,"grid":false,"title":null,"encode":{"ticks":{"update":{"y2":{"signal":"datum.value%5==0?-8:-4"}}}}}},
"y":{"field":"y","type":"quantitative","scale":{"domain":[-0.025,1.495],"nice":false,"zero":false},"axis":{"orient":"left","values":[0,0.05,0.1,0.15,0.2,0.25,0.3,0.35,0.4,0.45,0.5,0.55,0.6,0.65,0.7,0.75,0.8,0.85,0.9,0.95,1,1.05,1.1,1.15,1.2,1.25,1.3,1.35,1.4,1.45],"labelExpr":"abs(datum.value*5-round(datum.value*5))<0.001?format(datum.value,'.1f'):''","labelOverlap":false,"labelFontSize":18,"labelPadding":7,"tickSize":0,"domain":false,"grid":false,"title":"ξ","titleFontSize":18,"titleFontWeight":"normal","titlePadding":14,"encode":{"ticks":{"update":{"x2":{"signal":"abs(datum.value*5-round(datum.value*5))<0.001?8:4"}}}}}},
"color":{"field":"s","type":"nominal","scale":{"domain":["M175","M25","blank","Y497","Y499","Si"],"range":["#000000","#ff0000","rgba(0,0,0,0)","#ffb400","#0000ff","#008000"]},
"legend":{"orient":"none","legendX":156,"legendY":12,"columns":2,"columnPadding":-1,"rowPadding":0,"clipHeight":24,"symbolSize":6400,"symbolStrokeWidth":1.5,"labelFont":"Liberation Serif","labelFontSize":15,"labelOffset":16,"title":null,"padding":0,
"labelExpr":"datum.value=='M175'?'ξM=1.75':datum.value=='M25'?'ξM=2.5':datum.value=='Y497'?'ξYe=0.497':datum.value=='Y499'?'ξYe=0.499':datum.value=='Si'?'ξ²⁸Si':''",
"encode":{"symbols":{"update":{"shape":{"signal":"datum.value=='M175'?'M-1,0H1M-0.11,0H0.11M0,-0.11V0.11M-0.08,-0.08L0.08,0.08M-0.08,0.08L0.08,-0.08':datum.value=='M25'?'M-1,0H1M0,-0.1V0.1':datum.value=='Y497'?'M-1,0H-0.11M0.11,0H1M0,-0.11L0.11,0L0,0.11L-0.11,0Z':datum.value=='Y499'?'M-1,0H1M-0.08,0A0.08,0.08,0,1,0,0.08,0A0.08,0.08,0,1,0,-0.08,0Z':'M-1,0H1M0,-0.09L0.08,0.06L-0.08,0.06Z'"},"fill":{"signal":"datum.value=='Y497'?'#ffffff':datum.value=='Y499'?'#0000ff':datum.value=='Si'?'#008000':'transparent'"},"stroke":{"scale":"color","field":"value"},"strokeWidth":{"value":1.5},"opacity":{"value":1}}},"labels":{"update":{"fill":{"scale":"color","field":"value"}}}}}}}},
{"transform":[{"filter":"datum.s=='M175'"}],"mark":{"type":"point","shape":"M-1,0H1M0,-1V1M-0.7,-0.7L0.7,0.7M-0.7,0.7L0.7,-0.7","size":90,"filled":false,"color":"#000000","strokeWidth":2,"opacity":1,"clip":true},"encoding":{
"x":{"field":"x","type":"quantitative","scale":{"domain":[10,41],"nice":false,"zero":false},"axis":{"orient":"top","values":[10,11,12,13,14,15,16,17,18,19,20,21,22,23,24,25,26,27,28,29,30,31,32,33,34,35,36,37,38,39,40,41],"labels":false,"tickSize":0,"domain":false,"grid":false,"title":null,"encode":{"ticks":{"update":{"y2":{"signal":"datum.value%5==0?8:4"}}}}}},
"y":{"field":"y","type":"quantitative","scale":{"domain":[-0.025,1.495],"nice":false,"zero":false},"axis":{"orient":"right","values":[0,0.05,0.1,0.15,0.2,0.25,0.3,0.35,0.4,0.45,0.5,0.55,0.6,0.65,0.7,0.75,0.8,0.85,0.9,0.95,1,1.05,1.1,1.15,1.2,1.25,1.3,1.35,1.4,1.45],"labels":false,"tickSize":0,"domain":false,"grid":false,"title":null,"encode":{"ticks":{"update":{"x2":{"signal":"abs(datum.value*5-round(datum.value*5))<0.001?-8:-4"}}}}}}}},
{"transform":[{"filter":"datum.s=='M25'"}],"mark":{"type":"point","shape":"M-1,0H1M0,-1V1","size":70,"filled":false,"color":"#ff0000","strokeWidth":1.5,"opacity":1,"clip":true},"encoding":{"x":{"field":"x","type":"quantitative","scale":{"domain":[10,41],"nice":false,"zero":false},"axis":null},"y":{"field":"y","type":"quantitative","scale":{"domain":[-0.025,1.495],"nice":false,"zero":false},"axis":null}}},
{"transform":[{"filter":"datum.s=='Y497'"}],"mark":{"type":"point","shape":"diamond","size":80,"filled":false,"fill":"#ffffff","color":"#ffb400","strokeWidth":1.3,"opacity":1,"clip":true},"encoding":{"x":{"field":"x","type":"quantitative","scale":{"domain":[10,41],"nice":false,"zero":false},"axis":null},"y":{"field":"y","type":"quantitative","scale":{"domain":[-0.025,1.495],"nice":false,"zero":false},"axis":null}}},
{"transform":[{"filter":"datum.s=='Y499'"}],"mark":{"type":"point","shape":"circle","size":40,"filled":true,"color":"#0000ff","opacity":1,"clip":true},"encoding":{"x":{"field":"x","type":"quantitative","scale":{"domain":[10,41],"nice":false,"zero":false},"axis":null},"y":{"field":"y","type":"quantitative","scale":{"domain":[-0.025,1.495],"nice":false,"zero":false},"axis":null}}},
{"transform":[{"filter":"datum.s=='Si'"}],"mark":{"type":"point","shape":"triangle-up","size":40,"filled":true,"color":"#008000","opacity":1,"clip":true},"encoding":{"x":{"field":"x","type":"quantitative","scale":{"domain":[10,41],"nice":false,"zero":false},"axis":null},"y":{"field":"y","type":"quantitative","scale":{"domain":[-0.025,1.495],"nice":false,"zero":false},"axis":null}}}
],
"resolve":{"axis":{"x":"independent","y":"independent"}}},
{"width":495,"height":364,"view":{"stroke":"#000","strokeWidth":1},
"title":{"text":"uWHW02","anchor":"start","frame":"group","dx":48,"offset":-53,"baseline":"middle","fontSize":20,"font":"DejaVu Sans","fontWeight":"normal","color":"#000"},
"data":{"name":"lines"},"transform":[{"filter":"datum.p=='u'"}],
"layer":[
{"mark":{"type":"line","strokeWidth":1.4,"clip":true},"encoding":{
"x":{"field":"x","type":"quantitative","scale":{"domain":[10,41],"nice":false,"zero":false},"axis":{"orient":"bottom","values":[10,11,12,13,14,15,16,17,18,19,20,21,22,23,24,25,26,27,28,29,30,31,32,33,34,35,36,37,38,39,40,41],"labels":false,"tickSize":0,"domain":false,"grid":false,"title":null,"encode":{"ticks":{"update":{"y2":{"signal":"datum.value%5==0?-8:-4"}}}}}},
"y":{"field":"y","type":"quantitative","scale":{"domain":[-0.025,1.495],"nice":false,"zero":false},"axis":{"orient":"left","values":[0,0.05,0.1,0.15,0.2,0.25,0.3,0.35,0.4,0.45,0.5,0.55,0.6,0.65,0.7,0.75,0.8,0.85,0.9,0.95,1,1.05,1.1,1.15,1.2,1.25,1.3,1.35,1.4,1.45],"labelExpr":"abs(datum.value*5-round(datum.value*5))<0.001?format(datum.value,'.1f'):''","labelOverlap":false,"labelFontSize":18,"labelPadding":7,"tickSize":0,"domain":false,"grid":false,"title":"ξ","titleFontSize":18,"titleFontWeight":"normal","titlePadding":14,"encode":{"ticks":{"update":{"x2":{"signal":"abs(datum.value*5-round(datum.value*5))<0.001?8:4"}}}}}},
"color":{"field":"s","type":"nominal","scale":{"domain":["M175","M25","blank","Y497","Y499","Si"],"range":["#000000","#ff0000","rgba(0,0,0,0)","#ffb400","#0000ff","#008000"]},"legend":null}}},
{"transform":[{"filter":"datum.s=='M175'"}],"mark":{"type":"point","shape":"M-1,0H1M0,-1V1M-0.7,-0.7L0.7,0.7M-0.7,0.7L0.7,-0.7","size":90,"filled":false,"color":"#000000","strokeWidth":2,"opacity":1,"clip":true},"encoding":{
"x":{"field":"x","type":"quantitative","scale":{"domain":[10,41],"nice":false,"zero":false},"axis":{"orient":"top","values":[10,11,12,13,14,15,16,17,18,19,20,21,22,23,24,25,26,27,28,29,30,31,32,33,34,35,36,37,38,39,40,41],"labels":false,"tickSize":0,"domain":false,"grid":false,"title":null,"encode":{"ticks":{"update":{"y2":{"signal":"datum.value%5==0?8:4"}}}}}},
"y":{"field":"y","type":"quantitative","scale":{"domain":[-0.025,1.495],"nice":false,"zero":false},"axis":{"orient":"right","values":[0,0.05,0.1,0.15,0.2,0.25,0.3,0.35,0.4,0.45,0.5,0.55,0.6,0.65,0.7,0.75,0.8,0.85,0.9,0.95,1,1.05,1.1,1.15,1.2,1.25,1.3,1.35,1.4,1.45],"labels":false,"tickSize":0,"domain":false,"grid":false,"title":null,"encode":{"ticks":{"update":{"x2":{"signal":"abs(datum.value*5-round(datum.value*5))<0.001?-8:-4"}}}}}}}},
{"transform":[{"filter":"datum.s=='M25'"}],"mark":{"type":"point","shape":"M-1,0H1M0,-1V1","size":70,"filled":false,"color":"#ff0000","strokeWidth":1.5,"opacity":1,"clip":true},"encoding":{"x":{"field":"x","type":"quantitative","scale":{"domain":[10,41],"nice":false,"zero":false},"axis":null},"y":{"field":"y","type":"quantitative","scale":{"domain":[-0.025,1.495],"nice":false,"zero":false},"axis":null}}},
{"transform":[{"filter":"datum.s=='Y497'"}],"mark":{"type":"point","shape":"diamond","size":80,"filled":false,"fill":"#ffffff","color":"#ffb400","strokeWidth":1.3,"opacity":1,"clip":true},"encoding":{"x":{"field":"x","type":"quantitative","scale":{"domain":[10,41],"nice":false,"zero":false},"axis":null},"y":{"field":"y","type":"quantitative","scale":{"domain":[-0.025,1.495],"nice":false,"zero":false},"axis":null}}},
{"transform":[{"filter":"datum.s=='Y499'"}],"mark":{"type":"point","shape":"circle","size":40,"filled":true,"color":"#0000ff","opacity":1,"clip":true},"encoding":{"x":{"field":"x","type":"quantitative","scale":{"domain":[10,41],"nice":false,"zero":false},"axis":null},"y":{"field":"y","type":"quantitative","scale":{"domain":[-0.025,1.495],"nice":false,"zero":false},"axis":null}}},
{"transform":[{"filter":"datum.s=='Si'"}],"mark":{"type":"point","shape":"triangle-up","size":40,"filled":true,"color":"#008000","opacity":1,"clip":true},"encoding":{"x":{"field":"x","type":"quantitative","scale":{"domain":[10,41],"nice":false,"zero":false},"axis":null},"y":{"field":"y","type":"quantitative","scale":{"domain":[-0.025,1.495],"nice":false,"zero":false},"axis":null}}}
],
"resolve":{"axis":{"x":"independent","y":"independent"}}},
{"width":495,"height":364,"view":{"stroke":"#000","strokeWidth":1},
"title":{"text":"zWHW02","anchor":"start","frame":"group","dx":48,"offset":-53,"baseline":"middle","fontSize":20,"font":"DejaVu Sans","fontWeight":"normal","color":"#000"},
"data":{"name":"lines"},"transform":[{"filter":"datum.p=='z'"}],
"layer":[
{"mark":{"type":"line","strokeWidth":1.4,"clip":true},"encoding":{
"x":{"field":"x","type":"quantitative","scale":{"domain":[10,41],"nice":false,"zero":false},"axis":{"orient":"bottom","values":[10,11,12,13,14,15,16,17,18,19,20,21,22,23,24,25,26,27,28,29,30,31,32,33,34,35,36,37,38,39,40,41],"labelExpr":"datum.value%5==0&&datum.value<41?format(datum.value,'d'):''","labelOverlap":false,"labelFontSize":18,"labelPadding":9,"tickSize":0,"domain":false,"grid":false,"title":"Progenitor mass [M☉]","titleFontSize":18,"titleFontWeight":"normal","titlePadding":6,"encode":{"ticks":{"update":{"y2":{"signal":"datum.value%5==0?-8:-4"}}}}}},
"y":{"field":"y","type":"quantitative","scale":{"domain":[-0.025,1.495],"nice":false,"zero":false},"axis":{"orient":"left","values":[0,0.05,0.1,0.15,0.2,0.25,0.3,0.35,0.4,0.45,0.5,0.55,0.6,0.65,0.7,0.75,0.8,0.85,0.9,0.95,1,1.05,1.1,1.15,1.2,1.25,1.3,1.35,1.4,1.45],"labelExpr":"abs(datum.value*5-round(datum.value*5))<0.001?format(datum.value,'.1f'):''","labelOverlap":false,"labelFontSize":18,"labelPadding":7,"tickSize":0,"domain":false,"grid":false,"title":"ξ","titleFontSize":18,"titleFontWeight":"normal","titlePadding":14,"encode":{"ticks":{"update":{"x2":{"signal":"abs(datum.value*5-round(datum.value*5))<0.001?8:4"}}}}}},
"color":{"field":"s","type":"nominal","scale":{"domain":["M175","M25","blank","Y497","Y499","Si"],"range":["#000000","#ff0000","rgba(0,0,0,0)","#ffb400","#0000ff","#008000"]},"legend":null}}},
{"transform":[{"filter":"datum.s=='M175'"}],"mark":{"type":"point","shape":"M-1,0H1M0,-1V1M-0.7,-0.7L0.7,0.7M-0.7,0.7L0.7,-0.7","size":90,"filled":false,"color":"#000000","strokeWidth":2,"opacity":1,"clip":true},"encoding":{
"x":{"field":"x","type":"quantitative","scale":{"domain":[10,41],"nice":false,"zero":false},"axis":{"orient":"top","values":[10,11,12,13,14,15,16,17,18,19,20,21,22,23,24,25,26,27,28,29,30,31,32,33,34,35,36,37,38,39,40,41],"labels":false,"tickSize":0,"domain":false,"grid":false,"title":null,"encode":{"ticks":{"update":{"y2":{"signal":"datum.value%5==0?8:4"}}}}}},
"y":{"field":"y","type":"quantitative","scale":{"domain":[-0.025,1.495],"nice":false,"zero":false},"axis":{"orient":"right","values":[0,0.05,0.1,0.15,0.2,0.25,0.3,0.35,0.4,0.45,0.5,0.55,0.6,0.65,0.7,0.75,0.8,0.85,0.9,0.95,1,1.05,1.1,1.15,1.2,1.25,1.3,1.35,1.4,1.45],"labels":false,"tickSize":0,"domain":false,"grid":false,"title":null,"encode":{"ticks":{"update":{"x2":{"signal":"abs(datum.value*5-round(datum.value*5))<0.001?-8:-4"}}}}}}}},
{"transform":[{"filter":"datum.s=='M25'"}],"mark":{"type":"point","shape":"M-1,0H1M0,-1V1","size":70,"filled":false,"color":"#ff0000","strokeWidth":1.5,"opacity":1,"clip":true},"encoding":{"x":{"field":"x","type":"quantitative","scale":{"domain":[10,41],"nice":false,"zero":false},"axis":null},"y":{"field":"y","type":"quantitative","scale":{"domain":[-0.025,1.495],"nice":false,"zero":false},"axis":null}}},
{"transform":[{"filter":"datum.s=='Y497'"}],"mark":{"type":"point","shape":"diamond","size":80,"filled":false,"fill":"#ffffff","color":"#ffb400","strokeWidth":1.3,"opacity":1,"clip":true},"encoding":{"x":{"field":"x","type":"quantitative","scale":{"domain":[10,41],"nice":false,"zero":false},"axis":null},"y":{"field":"y","type":"quantitative","scale":{"domain":[-0.025,1.495],"nice":false,"zero":false},"axis":null}}},
{"transform":[{"filter":"datum.s=='Y499'"}],"mark":{"type":"point","shape":"circle","size":40,"filled":true,"color":"#0000ff","opacity":1,"clip":true},"encoding":{"x":{"field":"x","type":"quantitative","scale":{"domain":[10,41],"nice":false,"zero":false},"axis":null},"y":{"field":"y","type":"quantitative","scale":{"domain":[-0.025,1.495],"nice":false,"zero":false},"axis":null}}},
{"transform":[{"filter":"datum.s=='Si'"}],"mark":{"type":"point","shape":"triangle-up","size":40,"filled":true,"color":"#008000","opacity":1,"clip":true},"encoding":{"x":{"field":"x","type":"quantitative","scale":{"domain":[10,41],"nice":false,"zero":false},"axis":null},"y":{"field":"y","type":"quantitative","scale":{"domain":[-0.025,1.495],"nice":false,"zero":false},"axis":null}}}
],
"resolve":{"axis":{"x":"independent","y":"independent"}}}
],"spacing":0,"bounds":"flush"},
{"vconcat":[
{"width":166,"height":66,"data":{"values":[]},"mark":"point"},
{"width":166,"height":167,"data":{"name":"corr"},"transform":[{"filter":"datum.p=='s'"}],"mark":{"type":"rect"},"encoding":{
"x":{"field":"c","type":"nominal","scale":{"domain":["M175","M25","Y497","Y499","Si"],"paddingInner":0,"paddingOuter":0},"axis":{"orient":"top","labelAngle":-90,"ticks":false,"domain":false,"title":null,"labelFont":"Liberation Serif","labelFontSize":14,"labelPadding":6,"labelExpr":"datum.value=='M175'?'ξM=1.75':datum.value=='M25'?'ξM=2.5':datum.value=='Y497'?'ξYe=0.497':datum.value=='Y499'?'ξYe=0.499':'ξ²⁸Si'"}},
"y":{"field":"r","type":"nominal","scale":{"domain":["M175","M25","Y497","Y499","Si"],"paddingInner":0,"paddingOuter":0},"axis":{"orient":"left","ticks":false,"domain":false,"title":null,"labelFont":"Liberation Serif","labelFontSize":14,"labelPadding":6,"labelExpr":"datum.value=='M175'?'ξM=1.75':datum.value=='M25'?'ξM=2.5':datum.value=='Y497'?'ξYe=0.497':datum.value=='Y499'?'ξYe=0.499':'ξ²⁸Si'"}},
"fill":{"field":"v","type":"quantitative","scale":{"domain":[-1,0,1],"range":["#ff0000","#ffffff","#0000ff"],"interpolate":"rgb"},
"legend":{"orient":"none","legendX":602,"legendY":977,"direction":"vertical","gradientLength":163,"gradientThickness":41,"gradientStrokeColor":"#000","gradientStrokeWidth":1,"values":[-1,-0.5,0,0.5,1],"format":".1f","labelFont":"DejaVu Sans","labelFontSize":18,"labelColor":"#000","labelOverlap":false,"labelLimit":100,"title":"Correlation coefficient","titleOrient":"left","titleFont":"Liberation Sans","titleFontSize":18,"titleFontWeight":"normal","titleColor":"#000","titlePadding":56,"titleAnchor":"middle","titleLimit":400,"padding":0,
"encode":{"labels":{"update":{"x":{"value":-7},"align":{"value":"right"}}}}}}}},
{"width":166,"height":171,"data":{"values":[]},"mark":"point"},
{"width":166,"height":166,"data":{"name":"corr"},"transform":[{"filter":"datum.p=='u'"}],"mark":{"type":"rect"},"encoding":{
"x":{"field":"c","type":"nominal","scale":{"domain":["M175","M25","Y497","Y499","Si"],"paddingInner":0,"paddingOuter":0},"axis":{"orient":"top","labelAngle":-90,"ticks":false,"domain":false,"title":null,"labelFont":"Liberation Serif","labelFontSize":14,"labelPadding":6,"labelExpr":"datum.value=='M175'?'ξM=1.75':datum.value=='M25'?'ξM=2.5':datum.value=='Y497'?'ξYe=0.497':datum.value=='Y499'?'ξYe=0.499':'ξ²⁸Si'"}},
"y":{"field":"r","type":"nominal","scale":{"domain":["M175","M25","Y497","Y499","Si"],"paddingInner":0,"paddingOuter":0},"axis":{"orient":"left","ticks":false,"domain":false,"title":null,"labelFont":"Liberation Serif","labelFontSize":14,"labelPadding":6,"labelExpr":"datum.value=='M175'?'ξM=1.75':datum.value=='M25'?'ξM=2.5':datum.value=='Y497'?'ξYe=0.497':datum.value=='Y499'?'ξYe=0.499':'ξ²⁸Si'"}},
"fill":{"field":"v","type":"quantitative","scale":{"domain":[-1,0,1],"range":["#ff0000","#ffffff","#0000ff"],"interpolate":"rgb"}}}},
{"width":166,"height":183,"data":{"values":[]},"mark":"point"},
{"width":166,"height":166,"data":{"name":"corr"},"transform":[{"filter":"datum.p=='z'"}],"mark":{"type":"rect"},"encoding":{
"x":{"field":"c","type":"nominal","scale":{"domain":["M175","M25","Y497","Y499","Si"],"paddingInner":0,"paddingOuter":0},"axis":{"orient":"top","labelAngle":-90,"ticks":false,"domain":false,"title":null,"labelFont":"Liberation Serif","labelFontSize":14,"labelPadding":6,"labelExpr":"datum.value=='M175'?'ξM=1.75':datum.value=='M25'?'ξM=2.5':datum.value=='Y497'?'ξYe=0.497':datum.value=='Y499'?'ξYe=0.499':'ξ²⁸Si'"}},
"y":{"field":"r","type":"nominal","scale":{"domain":["M175","M25","Y497","Y499","Si"],"paddingInner":0,"paddingOuter":0},"axis":{"orient":"left","ticks":false,"domain":false,"title":null,"labelFont":"Liberation Serif","labelFontSize":14,"labelPadding":6,"labelExpr":"datum.value=='M175'?'ξM=1.75':datum.value=='M25'?'ξM=2.5':datum.value=='Y497'?'ξYe=0.497':datum.value=='Y499'?'ξYe=0.499':'ξ²⁸Si'"}},
"fill":{"field":"v","type":"quantitative","scale":{"domain":[-1,0,1],"range":["#ff0000","#ffffff","#0000ff"],"interpolate":"rgb"}}}}
],"spacing":0,"bounds":"flush"}
],
"spacing":587,
"bounds":"flush"
}
